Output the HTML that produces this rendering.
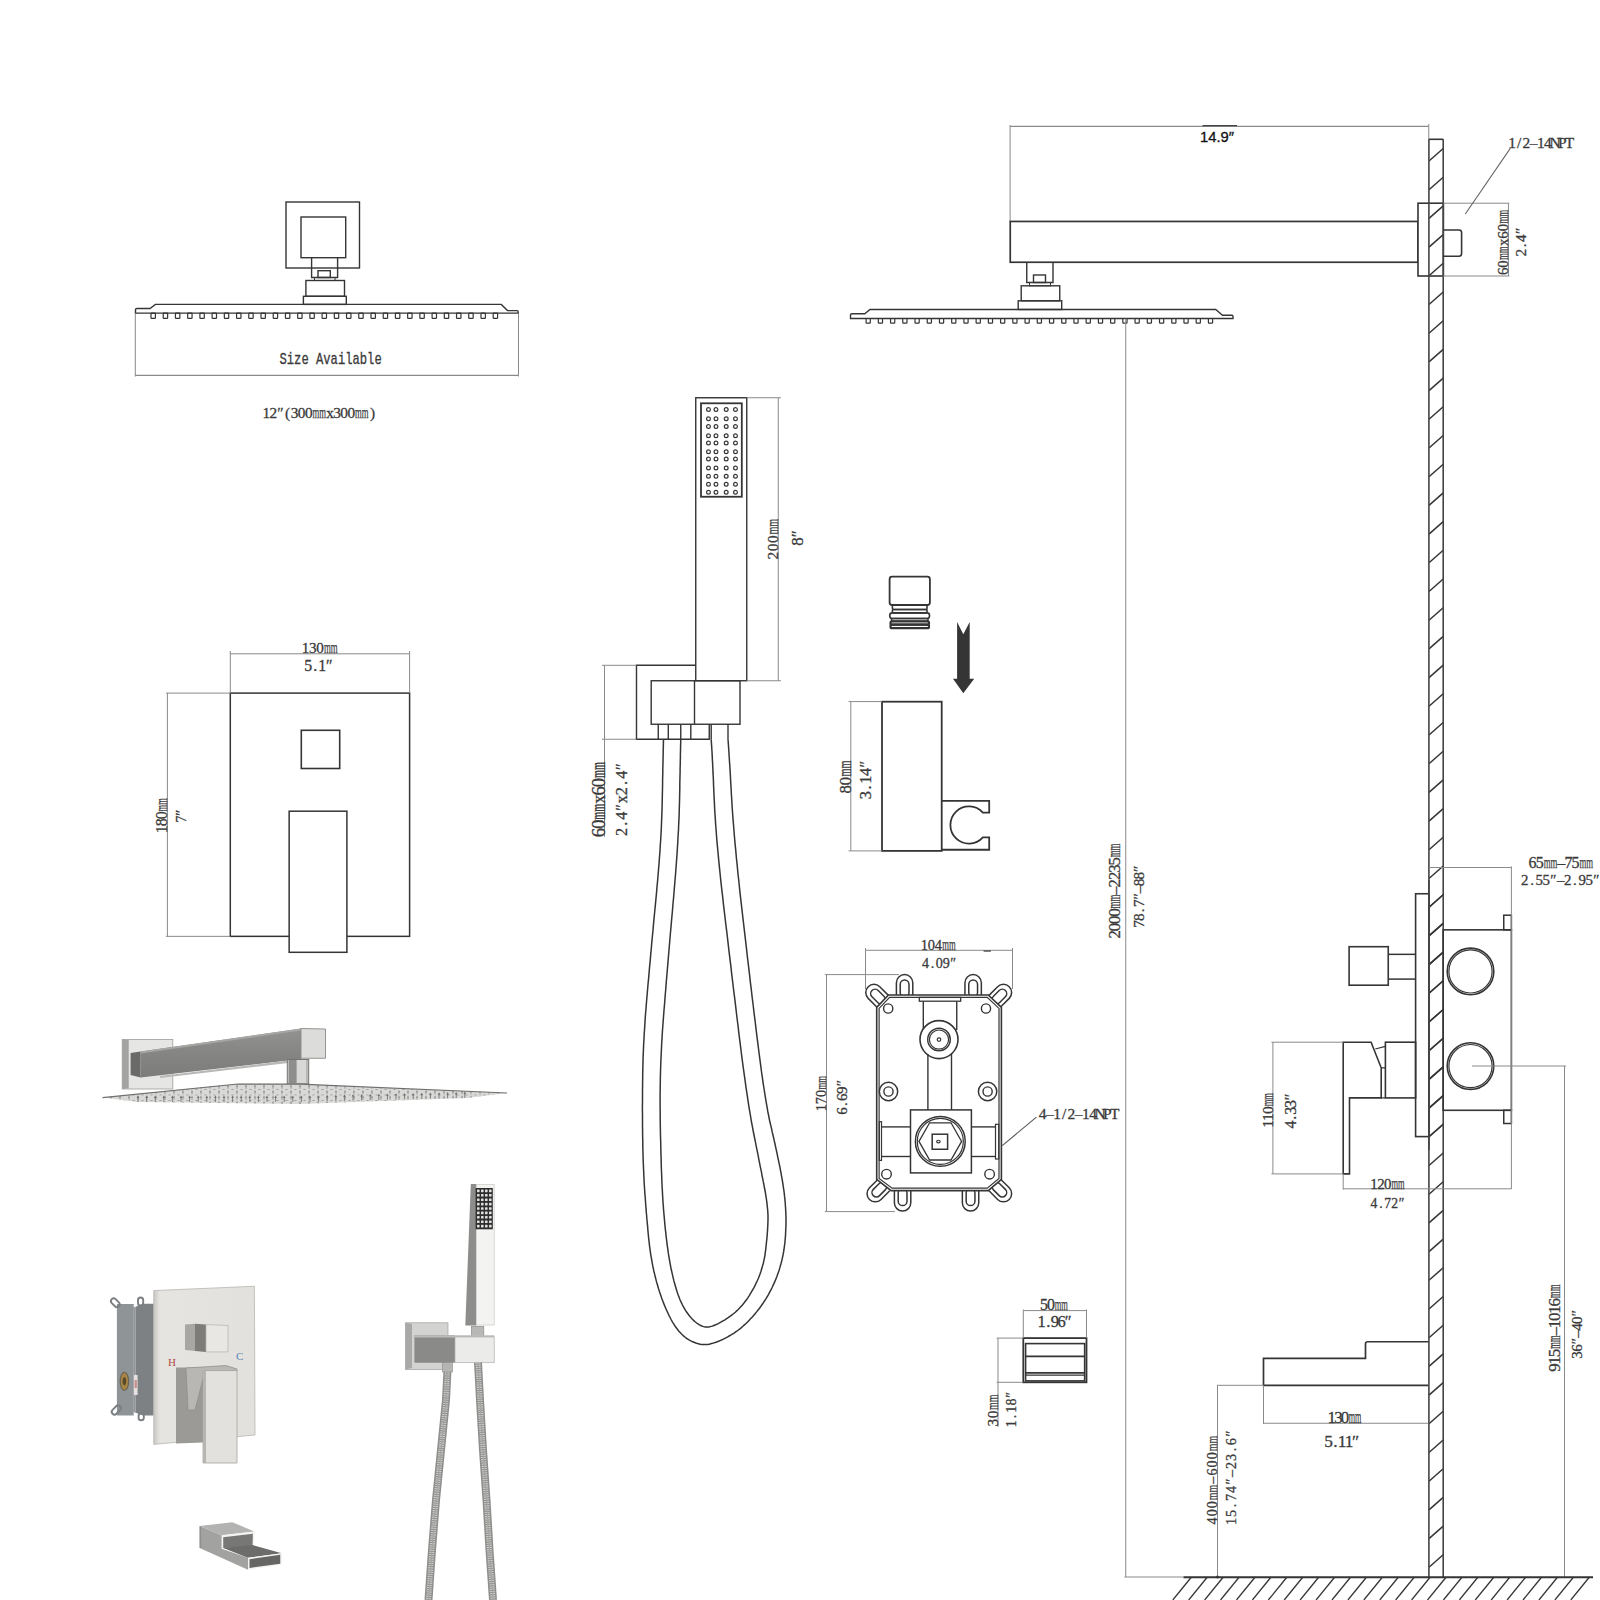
<!DOCTYPE html>
<html><head><meta charset="utf-8"><style>
html,body{margin:0;padding:0;background:#fff;width:1600px;height:1600px;overflow:hidden}
svg{display:block}
</style></head><body>
<svg width="1600" height="1600" viewBox="0 0 1600 1600" stroke-linecap="butt">
<defs><linearGradient id="armg" x1="0" y1="0" x2="0" y2="1"><stop offset="0" stop-color="#9a9a98"/><stop offset="0.45" stop-color="#7b7b79"/><stop offset="1" stop-color="#6e6e6c"/></linearGradient><linearGradient id="flg" x1="0" y1="0" x2="1" y2="0"><stop offset="0" stop-color="#b9b9b7"/><stop offset="0.15" stop-color="#e2e2e0"/><stop offset="1" stop-color="#dcdcda"/></linearGradient><linearGradient id="plg" x1="0" y1="0" x2="1" y2="0"><stop offset="0" stop-color="#c6c6c4"/><stop offset="0.5" stop-color="#a8a8a6"/><stop offset="1" stop-color="#c0c0be"/></linearGradient><linearGradient id="armg2" x1="0" y1="0" x2="0" y2="1"><stop offset="0" stop-color="#939391"/><stop offset="0.5" stop-color="#858583"/><stop offset="1" stop-color="#7c7c7a"/></linearGradient><pattern id="nozp" x="0" y="0" width="9" height="5.5" patternUnits="userSpaceOnUse"><rect width="9" height="5.5" fill="#d9d9d7"/><path d="M1.8,3.4 L3,0.9 L4.2,3.4 Z M6.3,0.6 L7.5,-1.9 L8.7,0.6 Z" fill="#8c8c8a"/><line x1="3" y1="3" x2="3" y2="5.5" stroke="#9a9a98" stroke-width="0.8"/></pattern><linearGradient id="vplg" x1="0" y1="0" x2="1" y2="0"><stop offset="0" stop-color="#c8c6c2"/><stop offset="0.06" stop-color="#e6e4e0"/><stop offset="1" stop-color="#e3e1dd"/></linearGradient></defs>
<rect x="0" y="0" width="1600" height="1600" fill="#fff"/>
<rect x="286.00" y="202.00" width="73.50" height="66.00" stroke="#353535" stroke-width="1.4" fill="none" rx="0" />
<rect x="301.00" y="217.00" width="44.70" height="40.70" stroke="#353535" stroke-width="1.4" fill="none" rx="0" />
<path d="M311.6,257.7 L311.6,277.5 L337.6,277.5 L337.6,257.7" stroke="#353535" stroke-width="1.4" fill="none" />
<rect x="318.00" y="270.70" width="12.30" height="6.80" stroke="#353535" stroke-width="1.4" fill="none" rx="0" />
<rect x="314.50" y="277.50" width="20.50" height="3.00" stroke="#353535" stroke-width="1.0" fill="none" rx="0" />
<rect x="305.90" y="280.50" width="38.60" height="15.80" stroke="#353535" stroke-width="1.4" fill="none" rx="0" />
<rect x="303.40" y="296.30" width="42.90" height="8.10" stroke="#353535" stroke-width="1.4" fill="none" rx="0" />
<path d="M135.5,313.1 L135.5,309.5 Q135.5,308.5 137,308.5 L150,308.5 L155.4,304.4 L501.3,304.4 L507.5,310.6 L517,310.6 Q518.2,310.6 518.2,312 L518.2,313.1 Z" stroke="#353535" stroke-width="1.4" fill="none" />
<rect x="151.00" y="313.10" width="4.40" height="5.20" stroke="#353535" stroke-width="1.2" fill="none" rx="0.6" />
<rect x="163.22" y="313.10" width="4.40" height="5.20" stroke="#353535" stroke-width="1.2" fill="none" rx="0.6" />
<rect x="175.44" y="313.10" width="4.40" height="5.20" stroke="#353535" stroke-width="1.2" fill="none" rx="0.6" />
<rect x="187.66" y="313.10" width="4.40" height="5.20" stroke="#353535" stroke-width="1.2" fill="none" rx="0.6" />
<rect x="199.89" y="313.10" width="4.40" height="5.20" stroke="#353535" stroke-width="1.2" fill="none" rx="0.6" />
<rect x="212.11" y="313.10" width="4.40" height="5.20" stroke="#353535" stroke-width="1.2" fill="none" rx="0.6" />
<rect x="224.33" y="313.10" width="4.40" height="5.20" stroke="#353535" stroke-width="1.2" fill="none" rx="0.6" />
<rect x="236.55" y="313.10" width="4.40" height="5.20" stroke="#353535" stroke-width="1.2" fill="none" rx="0.6" />
<rect x="248.77" y="313.10" width="4.40" height="5.20" stroke="#353535" stroke-width="1.2" fill="none" rx="0.6" />
<rect x="260.99" y="313.10" width="4.40" height="5.20" stroke="#353535" stroke-width="1.2" fill="none" rx="0.6" />
<rect x="273.21" y="313.10" width="4.40" height="5.20" stroke="#353535" stroke-width="1.2" fill="none" rx="0.6" />
<rect x="285.44" y="313.10" width="4.40" height="5.20" stroke="#353535" stroke-width="1.2" fill="none" rx="0.6" />
<rect x="297.66" y="313.10" width="4.40" height="5.20" stroke="#353535" stroke-width="1.2" fill="none" rx="0.6" />
<rect x="309.88" y="313.10" width="4.40" height="5.20" stroke="#353535" stroke-width="1.2" fill="none" rx="0.6" />
<rect x="322.10" y="313.10" width="4.40" height="5.20" stroke="#353535" stroke-width="1.2" fill="none" rx="0.6" />
<rect x="334.32" y="313.10" width="4.40" height="5.20" stroke="#353535" stroke-width="1.2" fill="none" rx="0.6" />
<rect x="346.54" y="313.10" width="4.40" height="5.20" stroke="#353535" stroke-width="1.2" fill="none" rx="0.6" />
<rect x="358.76" y="313.10" width="4.40" height="5.20" stroke="#353535" stroke-width="1.2" fill="none" rx="0.6" />
<rect x="370.99" y="313.10" width="4.40" height="5.20" stroke="#353535" stroke-width="1.2" fill="none" rx="0.6" />
<rect x="383.21" y="313.10" width="4.40" height="5.20" stroke="#353535" stroke-width="1.2" fill="none" rx="0.6" />
<rect x="395.43" y="313.10" width="4.40" height="5.20" stroke="#353535" stroke-width="1.2" fill="none" rx="0.6" />
<rect x="407.65" y="313.10" width="4.40" height="5.20" stroke="#353535" stroke-width="1.2" fill="none" rx="0.6" />
<rect x="419.87" y="313.10" width="4.40" height="5.20" stroke="#353535" stroke-width="1.2" fill="none" rx="0.6" />
<rect x="432.09" y="313.10" width="4.40" height="5.20" stroke="#353535" stroke-width="1.2" fill="none" rx="0.6" />
<rect x="444.31" y="313.10" width="4.40" height="5.20" stroke="#353535" stroke-width="1.2" fill="none" rx="0.6" />
<rect x="456.54" y="313.10" width="4.40" height="5.20" stroke="#353535" stroke-width="1.2" fill="none" rx="0.6" />
<rect x="468.76" y="313.10" width="4.40" height="5.20" stroke="#353535" stroke-width="1.2" fill="none" rx="0.6" />
<rect x="480.98" y="313.10" width="4.40" height="5.20" stroke="#353535" stroke-width="1.2" fill="none" rx="0.6" />
<rect x="493.20" y="313.10" width="4.40" height="5.20" stroke="#353535" stroke-width="1.2" fill="none" rx="0.6" />
<line x1="135.30" y1="313.50" x2="135.30" y2="376.50" stroke="#8a8a8a" stroke-width="1.0"/>
<line x1="518.50" y1="313.50" x2="518.50" y2="376.50" stroke="#8a8a8a" stroke-width="1.0"/>
<line x1="135.30" y1="375.30" x2="518.50" y2="375.30" stroke="#8a8a8a" stroke-width="1.3"/>
<text x="279.50" y="363.90" font-family="Liberation Mono" font-size="15.61" fill="#3a3a3a" stroke="#3a3a3a" stroke-width="0.3" font-weight="normal" textLength="102.20" lengthAdjust="spacingAndGlyphs">Size Available</text>
<text x="266.24 273.32 280.40 287.48 294.57 301.65 308.73" y="418.30" font-family="Liberation Serif" font-size="15.29" fill="#3a3a3a" stroke="#3a3a3a" stroke-width="0.3" text-anchor="middle">12″(300</text><text x="312.62" y="418.30" font-family="Liberation Serif" font-size="16.72" fill="#3a3a3a" stroke="#3a3a3a" stroke-width="0.25" textLength="13.45" lengthAdjust="spacingAndGlyphs">mm</text><text x="329.97 337.05 344.13 351.22" y="418.30" font-family="Liberation Serif" font-size="15.29" fill="#3a3a3a" stroke="#3a3a3a" stroke-width="0.3" text-anchor="middle">x300</text><text x="355.11" y="418.30" font-family="Liberation Serif" font-size="16.72" fill="#3a3a3a" stroke="#3a3a3a" stroke-width="0.25" textLength="13.45" lengthAdjust="spacingAndGlyphs">mm</text><text x="372.46" y="418.30" font-family="Liberation Serif" font-size="15.29" fill="#3a3a3a" stroke="#3a3a3a" stroke-width="0.3" text-anchor="middle">)</text>
<rect x="695.75" y="397.75" width="51.00" height="283.00" stroke="#353535" stroke-width="1.4" fill="none" rx="0" />
<rect x="701.00" y="403.30" width="40.80" height="93.45" stroke="#353535" stroke-width="1.8" fill="none" rx="0" />
<circle cx="708.50" cy="409.45" r="1.90" stroke="#353535" stroke-width="1.2" fill="none"/>
<circle cx="708.50" cy="418.75" r="1.90" stroke="#353535" stroke-width="1.2" fill="none"/>
<circle cx="708.50" cy="426.50" r="1.90" stroke="#353535" stroke-width="1.2" fill="none"/>
<circle cx="708.50" cy="435.70" r="1.90" stroke="#353535" stroke-width="1.2" fill="none"/>
<circle cx="708.50" cy="443.00" r="1.90" stroke="#353535" stroke-width="1.2" fill="none"/>
<circle cx="708.50" cy="451.75" r="1.90" stroke="#353535" stroke-width="1.2" fill="none"/>
<circle cx="708.50" cy="459.00" r="1.90" stroke="#353535" stroke-width="1.2" fill="none"/>
<circle cx="708.50" cy="468.00" r="1.90" stroke="#353535" stroke-width="1.2" fill="none"/>
<circle cx="708.50" cy="476.20" r="1.90" stroke="#353535" stroke-width="1.2" fill="none"/>
<circle cx="708.50" cy="484.30" r="1.90" stroke="#353535" stroke-width="1.2" fill="none"/>
<circle cx="708.50" cy="492.25" r="1.90" stroke="#353535" stroke-width="1.2" fill="none"/>
<circle cx="716.00" cy="409.45" r="1.90" stroke="#353535" stroke-width="1.2" fill="none"/>
<circle cx="716.00" cy="418.75" r="1.90" stroke="#353535" stroke-width="1.2" fill="none"/>
<circle cx="716.00" cy="426.50" r="1.90" stroke="#353535" stroke-width="1.2" fill="none"/>
<circle cx="716.00" cy="435.70" r="1.90" stroke="#353535" stroke-width="1.2" fill="none"/>
<circle cx="716.00" cy="443.00" r="1.90" stroke="#353535" stroke-width="1.2" fill="none"/>
<circle cx="716.00" cy="451.75" r="1.90" stroke="#353535" stroke-width="1.2" fill="none"/>
<circle cx="716.00" cy="459.00" r="1.90" stroke="#353535" stroke-width="1.2" fill="none"/>
<circle cx="716.00" cy="468.00" r="1.90" stroke="#353535" stroke-width="1.2" fill="none"/>
<circle cx="716.00" cy="476.20" r="1.90" stroke="#353535" stroke-width="1.2" fill="none"/>
<circle cx="716.00" cy="484.30" r="1.90" stroke="#353535" stroke-width="1.2" fill="none"/>
<circle cx="716.00" cy="492.25" r="1.90" stroke="#353535" stroke-width="1.2" fill="none"/>
<circle cx="726.20" cy="409.45" r="1.90" stroke="#353535" stroke-width="1.2" fill="none"/>
<circle cx="726.20" cy="418.75" r="1.90" stroke="#353535" stroke-width="1.2" fill="none"/>
<circle cx="726.20" cy="426.50" r="1.90" stroke="#353535" stroke-width="1.2" fill="none"/>
<circle cx="726.20" cy="435.70" r="1.90" stroke="#353535" stroke-width="1.2" fill="none"/>
<circle cx="726.20" cy="443.00" r="1.90" stroke="#353535" stroke-width="1.2" fill="none"/>
<circle cx="726.20" cy="451.75" r="1.90" stroke="#353535" stroke-width="1.2" fill="none"/>
<circle cx="726.20" cy="459.00" r="1.90" stroke="#353535" stroke-width="1.2" fill="none"/>
<circle cx="726.20" cy="468.00" r="1.90" stroke="#353535" stroke-width="1.2" fill="none"/>
<circle cx="726.20" cy="476.20" r="1.90" stroke="#353535" stroke-width="1.2" fill="none"/>
<circle cx="726.20" cy="484.30" r="1.90" stroke="#353535" stroke-width="1.2" fill="none"/>
<circle cx="726.20" cy="492.25" r="1.90" stroke="#353535" stroke-width="1.2" fill="none"/>
<circle cx="735.50" cy="409.45" r="1.90" stroke="#353535" stroke-width="1.2" fill="none"/>
<circle cx="735.50" cy="418.75" r="1.90" stroke="#353535" stroke-width="1.2" fill="none"/>
<circle cx="735.50" cy="426.50" r="1.90" stroke="#353535" stroke-width="1.2" fill="none"/>
<circle cx="735.50" cy="435.70" r="1.90" stroke="#353535" stroke-width="1.2" fill="none"/>
<circle cx="735.50" cy="443.00" r="1.90" stroke="#353535" stroke-width="1.2" fill="none"/>
<circle cx="735.50" cy="451.75" r="1.90" stroke="#353535" stroke-width="1.2" fill="none"/>
<circle cx="735.50" cy="459.00" r="1.90" stroke="#353535" stroke-width="1.2" fill="none"/>
<circle cx="735.50" cy="468.00" r="1.90" stroke="#353535" stroke-width="1.2" fill="none"/>
<circle cx="735.50" cy="476.20" r="1.90" stroke="#353535" stroke-width="1.2" fill="none"/>
<circle cx="735.50" cy="484.30" r="1.90" stroke="#353535" stroke-width="1.2" fill="none"/>
<circle cx="735.50" cy="492.25" r="1.90" stroke="#353535" stroke-width="1.2" fill="none"/>
<line x1="746.75" y1="397.75" x2="781.00" y2="397.75" stroke="#8a8a8a" stroke-width="1.0"/>
<line x1="746.75" y1="680.75" x2="781.00" y2="680.75" stroke="#8a8a8a" stroke-width="1.0"/>
<line x1="778.25" y1="397.75" x2="778.25" y2="680.75" stroke="#8a8a8a" stroke-width="1.0"/>
<g transform="translate(778.00,559.75) rotate(-90)"><text x="4.12 12.38 20.62" y="0.00" font-family="Liberation Serif" font-size="15.44" fill="#3a3a3a" stroke="#3a3a3a" stroke-width="0.3" text-anchor="middle">200</text><text x="25.16" y="0.00" font-family="Liberation Serif" font-size="16.89" fill="#3a3a3a" stroke="#3a3a3a" stroke-width="0.25" textLength="15.67" lengthAdjust="spacingAndGlyphs">mm</text></g>
<g transform="translate(803.00,545.50) rotate(-90)"><text x="3.94 11.81" y="0.00" font-family="Liberation Serif" font-size="16.91" fill="#3a3a3a" stroke="#3a3a3a" stroke-width="0.3" text-anchor="middle">8″</text></g>
<path d="M695.75,665.3 L636.5,665.3 L636.5,739.25 L709.25,739.25 L709.25,724.25" stroke="#353535" stroke-width="1.4" fill="none" />
<rect x="651.20" y="680.75" width="88.80" height="43.50" stroke="#353535" stroke-width="1.4" fill="none" rx="0" />
<line x1="694.50" y1="680.75" x2="694.50" y2="724.25" stroke="#353535" stroke-width="1.4"/>
<line x1="658.25" y1="724.25" x2="658.25" y2="739.25" stroke="#353535" stroke-width="1.4"/>
<line x1="668.30" y1="724.25" x2="668.30" y2="739.25" stroke="#353535" stroke-width="1.4"/>
<line x1="680.75" y1="724.25" x2="680.75" y2="739.25" stroke="#353535" stroke-width="1.4"/>
<line x1="690.80" y1="724.25" x2="690.80" y2="739.25" stroke="#353535" stroke-width="1.4"/>
<line x1="711.20" y1="724.25" x2="711.20" y2="739.25" stroke="#353535" stroke-width="1.4"/>
<line x1="728.00" y1="724.25" x2="728.00" y2="739.25" stroke="#353535" stroke-width="1.4"/>
<line x1="602.00" y1="665.30" x2="636.50" y2="665.30" stroke="#8a8a8a" stroke-width="1.0"/>
<line x1="602.00" y1="739.25" x2="636.50" y2="739.25" stroke="#8a8a8a" stroke-width="1.0"/>
<line x1="604.50" y1="665.30" x2="604.50" y2="836.75" stroke="#8a8a8a" stroke-width="1.0"/>
<g transform="translate(605.00,836.75) rotate(-90)"><text x="4.17 12.50" y="0.00" font-family="Liberation Serif" font-size="18.38" fill="#3a3a3a" stroke="#3a3a3a" stroke-width="0.3" text-anchor="middle">60</text><text x="17.08" y="0.00" font-family="Liberation Serif" font-size="20.11" fill="#3a3a3a" stroke="#3a3a3a" stroke-width="0.25" textLength="15.83" lengthAdjust="spacingAndGlyphs">mm</text><text x="37.50 45.83 54.17" y="0.00" font-family="Liberation Serif" font-size="18.38" fill="#3a3a3a" stroke="#3a3a3a" stroke-width="0.3" text-anchor="middle">x60</text><text x="58.75" y="0.00" font-family="Liberation Serif" font-size="20.11" fill="#3a3a3a" stroke="#3a3a3a" stroke-width="0.25" textLength="15.83" lengthAdjust="spacingAndGlyphs">mm</text></g>
<g transform="translate(626.75,836.00) rotate(-90)"><text x="4.08 12.25 20.42 28.58 36.75 44.92 53.08 61.25 69.42" y="0.00" font-family="Liberation Serif" font-size="16.24" fill="#3a3a3a" stroke="#3a3a3a" stroke-width="0.3" text-anchor="middle">2.4″x2.4″</text></g>
<path d="M663.5,739.2 L663.5,739.3 L663.5,739.5 L663.5,739.7 L663.5,740.1 L663.5,740.5 L663.5,741.0 L663.4,741.5 L663.4,742.2 L663.4,742.9 L663.4,743.7 L663.4,744.6 L663.3,745.6 L663.3,746.6 L663.3,747.8 L663.3,749.0 L663.2,750.3 L663.2,751.8 L663.2,753.6 L663.1,755.6 L663.1,757.8 L663.0,760.2 L663.0,762.9 L662.9,765.8 L662.8,769.0 L662.8,772.4 L662.7,776.0 L662.6,779.8 L662.6,783.9 L662.5,788.2 L662.4,792.7 L662.3,797.5 L662.2,802.5 L662.1,807.6 L661.9,812.7 L661.7,818.0 L661.5,823.3 L661.3,828.7 L661.0,834.1 L660.7,839.7 L660.3,845.3 L660.0,851.0 L659.5,856.8 L659.1,862.7 L658.6,868.6 L658.1,874.6 L657.6,880.7 L657.0,886.9 L656.5,893.1 L655.9,899.4 L655.3,905.6 L654.7,911.8 L654.1,917.9 L653.5,924.1 L653.0,930.2 L652.4,936.3 L651.8,942.4 L651.3,948.5 L650.7,954.6 L650.2,960.6 L649.6,966.6 L649.1,972.6 L648.6,978.6 L648.0,984.5 L647.5,990.5 L647.0,996.3 L646.5,1002.0 L646.1,1007.6 L645.6,1013.0 L645.2,1018.4 L644.9,1023.6 L644.6,1028.8 L644.2,1033.8 L644.0,1038.6 L643.7,1043.4 L643.5,1048.0 L643.3,1052.6 L643.1,1057.0 L643.0,1061.3 L642.9,1065.5 L642.8,1069.5 L642.7,1073.6 L642.7,1077.7 L642.6,1081.7 L642.6,1085.8 L642.5,1089.8 L642.5,1093.9 L642.5,1098.0 L642.5,1102.0 L642.4,1106.1 L642.4,1110.2 L642.5,1114.2 L642.5,1118.3 L642.5,1122.3 L642.5,1126.4 L642.6,1130.5 L642.6,1134.5 L642.7,1138.5 L642.8,1142.5 L642.8,1146.3 L642.9,1150.1 L643.0,1153.9 L643.1,1157.6 L643.2,1161.2 L643.4,1164.7 L643.5,1168.2 L643.7,1171.7 L643.8,1175.0 L644.0,1178.3 L644.1,1181.5 L644.3,1184.7 L644.5,1187.8 L644.7,1190.9 L644.9,1193.9 L645.2,1197.0 L645.4,1200.0 L645.6,1203.0 L645.8,1206.1 L646.1,1209.1 L646.3,1212.2 L646.6,1215.2 L646.8,1218.3 L647.1,1221.3 L647.4,1224.4 L647.7,1227.4 L647.9,1230.4 L648.2,1233.5 L648.5,1236.5 L648.8,1239.6 L649.2,1242.6 L649.5,1245.6 L649.9,1248.5 L650.3,1251.4 L650.7,1254.3 L651.2,1257.2 L651.7,1260.0 L652.2,1262.8 L652.7,1265.5 L653.3,1268.3 L653.8,1271.0 L654.5,1273.6 L655.1,1276.3 L655.8,1278.9 L656.4,1281.4 L657.2,1284.0 L657.9,1286.5 L658.6,1288.9 L659.4,1291.4 L660.2,1293.7 L661.0,1296.1 L661.8,1298.4 L662.7,1300.7 L663.5,1302.9 L664.4,1305.1 L665.3,1307.3 L666.2,1309.4 L667.2,1311.5 L668.1,1313.5 L669.1,1315.6 L670.1,1317.5 L671.1,1319.5 L672.1,1321.3 L673.2,1323.1 L674.3,1324.8 L675.3,1326.5 L676.5,1328.0 L677.6,1329.5 L678.7,1331.0 L679.9,1332.3 L681.1,1333.6 L682.3,1334.8 L683.5,1335.9 L684.8,1337.0 L686.0,1337.9 L687.3,1338.8 L688.6,1339.7 L689.9,1340.4 L691.3,1341.1 L692.6,1341.8 L693.9,1342.3 L695.2,1342.8 L696.4,1343.3 L697.7,1343.6 L699.0,1343.9 L700.3,1344.2 L701.5,1344.4 L702.8,1344.5 L704.0,1344.6 L705.3,1344.6 L706.5,1344.5 L707.7,1344.4 L709.0,1344.2 L710.2,1343.9 L711.4,1343.6 L712.7,1343.3 L713.9,1342.9 L715.2,1342.5 L716.6,1342.0 L717.9,1341.5 L719.2,1341.0 L720.6,1340.4 L722.0,1339.8 L723.4,1339.1 L724.8,1338.4 L726.3,1337.6 L727.7,1336.9 L729.2,1336.0 L730.7,1335.2 L732.3,1334.2 L733.8,1333.3 L735.3,1332.2 L736.8,1331.2 L738.4,1330.0 L739.9,1328.8 L741.4,1327.6 L742.9,1326.3 L744.4,1324.9 L746.0,1323.5 L747.5,1322.0 L749.0,1320.4 L750.5,1318.8 L752.1,1317.2 L753.6,1315.5 L755.1,1313.7 L756.6,1311.9 L758.1,1310.0 L759.5,1308.2 L760.9,1306.3 L762.3,1304.3 L763.6,1302.4 L764.9,1300.4 L766.2,1298.4 L767.4,1296.4 L768.6,1294.3 L769.7,1292.2 L770.8,1290.1 L771.9,1288.0 L772.9,1285.8 L773.9,1283.6 L774.9,1281.4 L775.8,1279.2 L776.7,1276.9 L777.5,1274.7 L778.3,1272.4 L779.1,1270.2 L779.8,1267.9 L780.4,1265.6 L781.1,1263.3 L781.7,1261.1 L782.2,1258.8 L782.7,1256.5 L783.2,1254.2 L783.6,1251.8 L784.0,1249.5 L784.3,1247.2 L784.6,1244.9 L784.9,1242.5 L785.1,1240.2 L785.3,1237.9 L785.5,1235.6 L785.6,1233.2 L785.7,1230.9 L785.8,1228.6 L785.9,1226.4 L786.0,1224.1 L786.0,1221.8 L786.0,1219.5 L786.0,1217.3 L785.9,1215.0 L785.8,1212.7 L785.7,1210.5 L785.6,1208.3 L785.4,1206.0 L785.3,1203.8 L785.1,1201.5 L784.9,1199.2 L784.6,1196.9 L784.4,1194.6 L784.1,1192.2 L783.8,1189.9 L783.4,1187.5 L783.1,1185.1 L782.7,1182.7 L782.3,1180.2 L781.9,1177.8 L781.4,1175.3 L781.0,1172.8 L780.5,1170.3 L780.0,1167.7 L779.5,1165.2 L778.9,1162.6 L778.4,1159.9 L777.8,1157.3 L777.3,1154.6 L776.7,1151.8 L776.1,1149.1 L775.5,1146.3 L774.9,1143.5 L774.2,1140.6 L773.6,1137.7 L772.9,1134.8 L772.2,1131.9 L771.6,1128.9 L770.9,1125.9 L770.1,1122.8 L769.4,1119.5 L768.7,1115.9 L767.9,1112.0 L767.2,1107.9 L766.4,1103.4 L765.6,1098.7 L764.8,1093.7 L764.0,1088.5 L763.1,1082.9 L762.3,1077.1 L761.4,1071.0 L760.6,1064.6 L759.7,1057.9 L758.8,1051.0 L757.9,1043.8 L756.9,1036.2 L756.0,1028.7 L755.1,1021.0 L754.1,1013.3 L753.2,1005.5 L752.2,997.6 L751.3,989.6 L750.3,981.6 L749.4,973.4 L748.4,965.2 L747.4,957.0 L746.5,948.6 L745.5,940.2 L744.5,931.6 L743.5,923.0 L742.5,914.4 L741.5,905.6 L740.5,897.1 L739.6,888.8 L738.8,880.8 L737.9,873.0 L737.2,865.4 L736.4,858.0 L735.8,850.9 L735.1,844.1 L734.5,837.4 L734.0,831.0 L733.5,824.8 L733.0,818.9 L732.6,813.2 L732.2,807.7 L731.9,802.5 L731.6,797.5 L731.3,792.7 L731.1,788.2 L730.8,783.9 L730.6,779.8 L730.4,776.0 L730.2,772.4 L730.0,769.0 L729.8,765.8 L729.6,762.9 L729.4,760.2 L729.3,757.8 L729.1,755.6 L729.0,753.6 L728.9,751.8 L728.8,750.3 L728.7,749.0 L728.6,747.8 L728.5,746.6 L728.5,745.6 L728.4,744.6 L728.3,743.7 L728.3,742.9 L728.2,742.2 L728.2,741.5 L728.1,741.0 L728.1,740.5 L728.1,740.1 L728.0,739.7 L728.0,739.5 L728.0,739.3 L728.0,739.2" stroke="#353535" stroke-width="1.5" fill="none" />
<path d="M680.8,739.2 L680.7,739.3 L680.7,739.5 L680.7,739.7 L680.7,740.1 L680.7,740.5 L680.7,741.0 L680.7,741.5 L680.7,742.2 L680.7,742.9 L680.7,743.7 L680.6,744.6 L680.6,745.6 L680.6,746.6 L680.6,747.8 L680.5,749.0 L680.5,750.3 L680.5,751.8 L680.4,753.6 L680.4,755.6 L680.4,757.8 L680.3,760.2 L680.3,762.9 L680.2,765.8 L680.1,769.0 L680.1,772.4 L680.0,776.0 L679.9,779.8 L679.8,783.9 L679.8,788.2 L679.7,792.7 L679.6,797.5 L679.5,802.5 L679.3,807.7 L679.2,813.0 L679.0,818.4 L678.7,824.1 L678.5,829.8 L678.1,835.8 L677.8,841.9 L677.4,848.1 L677.0,854.5 L676.5,861.1 L676.0,867.8 L675.5,874.7 L674.9,881.7 L674.3,888.9 L673.7,896.2 L673.0,903.8 L672.4,911.2 L671.7,918.6 L671.1,925.9 L670.4,933.2 L669.8,940.5 L669.2,947.7 L668.6,954.8 L668.0,961.9 L667.4,969.0 L666.8,976.0 L666.2,982.9 L665.7,989.8 L665.1,996.6 L664.6,1003.4 L664.0,1010.2 L663.5,1016.8 L663.0,1023.5 L662.5,1030.1 L662.1,1036.7 L661.7,1043.2 L661.4,1049.8 L661.1,1056.2 L660.8,1062.7 L660.6,1069.1 L660.4,1075.4 L660.3,1081.8 L660.2,1088.1 L660.1,1094.4 L660.1,1100.6 L660.1,1106.8 L660.2,1112.9 L660.2,1119.1 L660.3,1125.0 L660.4,1130.8 L660.5,1136.5 L660.7,1142.0 L660.8,1147.3 L660.9,1152.4 L661.1,1157.4 L661.2,1162.3 L661.3,1166.9 L661.5,1171.5 L661.7,1175.8 L661.8,1180.0 L662.0,1184.0 L662.2,1187.9 L662.4,1191.6 L662.6,1195.2 L662.8,1198.7 L663.0,1202.2 L663.3,1205.6 L663.5,1209.1 L663.8,1212.5 L664.1,1215.8 L664.4,1219.2 L664.7,1222.4 L665.0,1225.7 L665.3,1229.0 L665.7,1232.2 L666.0,1235.3 L666.4,1238.5 L666.8,1241.6 L667.1,1244.7 L667.6,1247.7 L668.0,1250.7 L668.4,1253.7 L668.9,1256.6 L669.4,1259.5 L669.9,1262.3 L670.4,1265.1 L670.9,1267.8 L671.5,1270.5 L672.1,1273.2 L672.7,1275.8 L673.3,1278.3 L673.9,1280.9 L674.6,1283.3 L675.3,1285.7 L675.9,1288.1 L676.7,1290.5 L677.4,1292.7 L678.2,1295.0 L679.0,1297.1 L679.8,1299.2 L680.7,1301.2 L681.6,1303.1 L682.5,1305.0 L683.5,1306.9 L684.5,1308.6 L685.5,1310.3 L686.6,1312.0 L687.7,1313.5 L688.8,1315.0 L690.0,1316.5 L691.1,1317.8 L692.4,1319.2 L693.6,1320.4 L694.8,1321.5 L696.0,1322.5 L697.2,1323.4 L698.4,1324.2 L699.5,1324.9 L700.7,1325.5 L701.9,1326.0 L703.0,1326.4 L704.2,1326.7 L705.3,1326.9 L706.5,1327.0 L707.6,1327.0 L708.7,1326.9 L709.8,1326.8 L711.0,1326.4 L712.1,1326.1 L713.3,1325.7 L714.4,1325.2 L715.7,1324.7 L716.9,1324.2 L718.2,1323.6 L719.5,1322.9 L720.8,1322.2 L722.1,1321.4 L723.5,1320.6 L724.9,1319.8 L726.3,1318.9 L727.8,1317.9 L729.2,1316.9 L730.7,1315.8 L732.3,1314.7 L733.8,1313.5 L735.3,1312.2 L736.7,1310.9 L738.2,1309.5 L739.6,1308.1 L741.0,1306.5 L742.4,1304.9 L743.8,1303.2 L745.1,1301.5 L746.5,1299.7 L747.8,1297.8 L749.1,1295.8 L750.3,1293.8 L751.6,1291.7 L752.8,1289.6 L754.1,1287.3 L755.2,1285.1 L756.3,1282.8 L757.4,1280.5 L758.4,1278.2 L759.3,1275.9 L760.2,1273.5 L761.0,1271.2 L761.7,1268.8 L762.4,1266.4 L763.1,1264.0 L763.7,1261.5 L764.2,1259.1 L764.7,1256.6 L765.1,1254.1 L765.4,1251.6 L765.8,1249.0 L766.0,1246.6 L766.3,1244.1 L766.5,1241.8 L766.8,1239.5 L767.0,1237.3 L767.2,1235.1 L767.3,1233.0 L767.5,1231.0 L767.6,1229.0 L767.7,1227.1 L767.8,1225.3 L767.9,1223.5 L767.9,1221.8 L768.0,1220.2 L768.0,1218.6 L768.0,1217.0 L768.0,1215.4 L767.9,1213.8 L767.8,1212.1 L767.7,1210.3 L767.5,1208.5 L767.3,1206.6 L767.1,1204.6 L766.9,1202.6 L766.6,1200.5 L766.3,1198.3 L765.9,1196.1 L765.6,1193.8 L765.2,1191.5 L764.7,1189.0 L764.2,1186.6 L763.8,1184.0 L763.2,1181.4 L762.7,1178.7 L762.1,1175.8 L761.6,1172.9 L761.0,1169.9 L760.3,1166.8 L759.7,1163.6 L759.0,1160.3 L758.4,1156.9 L757.7,1153.4 L757.0,1149.8 L756.2,1146.1 L755.5,1142.4 L754.7,1138.5 L753.9,1134.5 L753.1,1130.5 L752.3,1126.1 L751.4,1121.5 L750.6,1116.5 L749.7,1111.3 L748.8,1105.8 L747.9,1099.9 L747.0,1093.8 L746.0,1087.4 L745.1,1080.7 L744.1,1073.7 L743.1,1066.4 L742.1,1058.9 L741.1,1051.0 L740.1,1042.8 L739.0,1034.4 L738.0,1025.6 L736.9,1017.0 L735.9,1008.4 L734.9,999.8 L733.8,991.4 L732.8,983.0 L731.8,974.8 L730.9,966.6 L729.9,958.4 L728.9,950.4 L728.0,942.4 L727.1,934.5 L726.1,926.7 L725.2,919.0 L724.3,911.3 L723.4,903.8 L722.6,896.2 L721.7,888.9 L720.9,881.7 L720.2,874.7 L719.5,867.8 L718.8,861.1 L718.2,854.5 L717.6,848.1 L717.0,841.9 L716.5,835.8 L716.1,829.8 L715.6,824.1 L715.3,818.4 L714.9,813.0 L714.6,807.7 L714.4,802.5 L714.1,797.5 L713.9,792.7 L713.7,788.2 L713.5,783.9 L713.4,779.8 L713.2,776.0 L713.0,772.4 L712.9,769.0 L712.7,765.8 L712.6,762.9 L712.4,760.2 L712.3,757.8 L712.2,755.6 L712.1,753.6 L712.0,751.8 L711.9,750.3 L711.8,749.0 L711.7,747.8 L711.7,746.6 L711.6,745.6 L711.5,744.6 L711.5,743.7 L711.4,742.9 L711.4,742.2 L711.3,741.5 L711.3,741.0 L711.3,740.5 L711.3,740.1 L711.2,739.7 L711.2,739.5 L711.2,739.3 L711.2,739.2" stroke="#353535" stroke-width="1.5" fill="none" />
<rect x="889.60" y="576.65" width="40.30" height="28.35" stroke="#353535" stroke-width="1.8" fill="none" rx="2.5" />
<rect x="892.40" y="605.00" width="34.60" height="4.50" stroke="#353535" stroke-width="1.6" fill="none" rx="1" />
<rect x="892.40" y="609.50" width="34.60" height="3.40" stroke="#353535" stroke-width="1.6" fill="none" rx="1" />
<rect x="889.80" y="612.90" width="39.70" height="5.60" stroke="#353535" stroke-width="1.6" fill="none" rx="2.5" />
<rect x="891.50" y="618.50" width="36.50" height="2.80" stroke="#353535" stroke-width="1.6" fill="none" rx="1" />
<rect x="890.50" y="621.30" width="38.50" height="3.40" stroke="#353535" stroke-width="2.2" fill="none" rx="1.5" />
<rect x="890.50" y="624.70" width="38.50" height="3.50" stroke="#353535" stroke-width="2.2" fill="none" rx="1.5" />
<polygon points="957.10,621.90 963.30,634.25 969.70,621.90 969.70,678.70 974.20,678.70 963.30,693.30 953.00,678.70 957.10,678.70" fill="#353535" stroke="none" stroke-width="0" />
<rect x="882.00" y="701.70" width="59.70" height="149.20" stroke="#353535" stroke-width="1.8" fill="none" rx="0" />
<path d="M941.7,800.8 L989.2,800.8 L989.2,812.6 L982.86,812.6 A18.6,18.6 0 1 0 982.86,837.4 L989.2,837.4 L989.2,849.75 L941.7,849.75" stroke="#353535" stroke-width="1.8" fill="none" />
<line x1="850.80" y1="701.60" x2="850.80" y2="850.90" stroke="#8a8a8a" stroke-width="1.0"/>
<line x1="848.60" y1="701.60" x2="882.00" y2="701.60" stroke="#8a8a8a" stroke-width="1.0"/>
<line x1="848.60" y1="850.90" x2="882.00" y2="850.90" stroke="#8a8a8a" stroke-width="1.0"/>
<g transform="translate(850.80,793.50) rotate(-90)"><text x="4.15 12.45" y="0.00" font-family="Liberation Serif" font-size="16.62" fill="#3a3a3a" stroke="#3a3a3a" stroke-width="0.3" text-anchor="middle">80</text><text x="17.02" y="0.00" font-family="Liberation Serif" font-size="18.18" fill="#3a3a3a" stroke="#3a3a3a" stroke-width="0.25" textLength="15.77" lengthAdjust="spacingAndGlyphs">mm</text></g>
<g transform="translate(871.00,799.10) rotate(-90)"><text x="3.88 11.64 19.40 27.16 34.92" y="0.00" font-family="Liberation Serif" font-size="16.24" fill="#3a3a3a" stroke="#3a3a3a" stroke-width="0.3" text-anchor="middle">3.14″</text></g>
<rect x="230.30" y="693.10" width="179.30" height="243.25" stroke="#353535" stroke-width="1.5" fill="none" rx="0" />
<rect x="301.30" y="730.30" width="38.40" height="38.20" stroke="#353535" stroke-width="1.6" fill="none" rx="0" />
<rect x="289.15" y="811.20" width="57.75" height="141.10" stroke="#353535" stroke-width="1.5" fill="#fff" rx="0" />
<line x1="230.30" y1="653.80" x2="409.60" y2="653.80" stroke="#8a8a8a" stroke-width="1.0"/>
<line x1="230.30" y1="651.00" x2="230.30" y2="693.00" stroke="#8a8a8a" stroke-width="1.0"/>
<line x1="409.60" y1="651.00" x2="409.60" y2="693.00" stroke="#8a8a8a" stroke-width="1.0"/>
<text x="305.51 312.73 319.95" y="653.00" font-family="Liberation Serif" font-size="15.15" fill="#3a3a3a" stroke="#3a3a3a" stroke-width="0.3" text-anchor="middle">130</text><text x="323.92" y="653.00" font-family="Liberation Serif" font-size="16.57" fill="#3a3a3a" stroke="#3a3a3a" stroke-width="0.25" textLength="13.72" lengthAdjust="spacingAndGlyphs">mm</text>
<text x="308.20 315.20 322.20 329.20" y="671.40" font-family="Liberation Serif" font-size="15.83" fill="#3a3a3a" stroke="#3a3a3a" stroke-width="0.3" text-anchor="middle">5.1″</text>
<line x1="167.40" y1="693.10" x2="167.40" y2="936.35" stroke="#8a8a8a" stroke-width="1.0"/>
<line x1="166.00" y1="693.10" x2="230.30" y2="693.10" stroke="#8a8a8a" stroke-width="1.0"/>
<line x1="166.00" y1="936.35" x2="230.30" y2="936.35" stroke="#8a8a8a" stroke-width="1.0"/>
<g transform="translate(167.40,832.90) rotate(-90)"><text x="3.51 10.53 17.55" y="0.00" font-family="Liberation Serif" font-size="15.88" fill="#3a3a3a" stroke="#3a3a3a" stroke-width="0.3" text-anchor="middle">180</text><text x="21.41" y="0.00" font-family="Liberation Serif" font-size="17.37" fill="#3a3a3a" stroke="#3a3a3a" stroke-width="0.25" textLength="13.34" lengthAdjust="spacingAndGlyphs">mm</text></g>
<g transform="translate(185.70,822.30) rotate(-90)"><text x="3.20 9.60" y="0.00" font-family="Liberation Serif" font-size="14.48" fill="#3a3a3a" stroke="#3a3a3a" stroke-width="0.3" text-anchor="middle">7″</text></g>
<line x1="865.50" y1="950.30" x2="1012.50" y2="950.30" stroke="#8a8a8a" stroke-width="1.0"/>
<line x1="865.50" y1="948.00" x2="865.50" y2="989.00" stroke="#8a8a8a" stroke-width="1.0"/>
<line x1="1012.50" y1="948.00" x2="1012.50" y2="989.00" stroke="#8a8a8a" stroke-width="1.0"/>
<line x1="983.60" y1="951.00" x2="990.90" y2="951.00" stroke="#555" stroke-width="1.5"/>
<text x="924.24 931.32 938.40" y="950.30" font-family="Liberation Serif" font-size="14.41" fill="#3a3a3a" stroke="#3a3a3a" stroke-width="0.3" text-anchor="middle">104</text><text x="942.29" y="950.30" font-family="Liberation Serif" font-size="15.77" fill="#3a3a3a" stroke="#3a3a3a" stroke-width="0.25" textLength="13.45" lengthAdjust="spacingAndGlyphs">mm</text>
<text x="925.48 932.43 939.38 946.33 953.28" y="968.00" font-family="Liberation Serif" font-size="14.07" fill="#3a3a3a" stroke="#3a3a3a" stroke-width="0.3" text-anchor="middle">4.09″</text>
<line x1="824.80" y1="974.60" x2="899.00" y2="974.60" stroke="#8a8a8a" stroke-width="1.0"/>
<line x1="824.80" y1="1211.60" x2="895.00" y2="1211.60" stroke="#8a8a8a" stroke-width="1.0"/>
<line x1="826.50" y1="974.60" x2="826.50" y2="1211.60" stroke="#8a8a8a" stroke-width="1.0"/>
<g transform="translate(825.50,1111.20) rotate(-90)"><text x="3.55 10.64 17.73" y="0.00" font-family="Liberation Serif" font-size="14.26" fill="#3a3a3a" stroke="#3a3a3a" stroke-width="0.3" text-anchor="middle">170</text><text x="21.62" y="0.00" font-family="Liberation Serif" font-size="15.60" fill="#3a3a3a" stroke="#3a3a3a" stroke-width="0.25" textLength="13.47" lengthAdjust="spacingAndGlyphs">mm</text></g>
<g transform="translate(847.20,1114.50) rotate(-90)"><text x="3.48 10.44 17.40 24.36 31.32" y="0.00" font-family="Liberation Serif" font-size="15.15" fill="#3a3a3a" stroke="#3a3a3a" stroke-width="0.3" text-anchor="middle">6.69″</text></g>
<g transform="translate(904.60,995.00) rotate(0)"><path d="M-8.2,0 L-8.2,-12.2 A8.2,8.2 0 0 1 8.2,-12.2 L8.2,0 M-4.4,-2.5 L-4.4,-10.6 A4.4,4.4 0 0 1 4.4,-10.6 L4.4,-2.5 A4.4,4.4 0 0 1 -4.4,-2.5" stroke="#353535" stroke-width="1.5" fill="#fff"/></g>
<g transform="translate(973.15,995.00) rotate(0)"><path d="M-8.2,0 L-8.2,-12.2 A8.2,8.2 0 0 1 8.2,-12.2 L8.2,0 M-4.4,-2.5 L-4.4,-10.6 A4.4,4.4 0 0 1 4.4,-10.6 L4.4,-2.5 A4.4,4.4 0 0 1 -4.4,-2.5" stroke="#353535" stroke-width="1.5" fill="#fff"/></g>
<g transform="translate(882.60,1001.20) rotate(-45)"><path d="M-8.2,0 L-8.2,-12.2 A8.2,8.2 0 0 1 8.2,-12.2 L8.2,0 M-4.4,-2.5 L-4.4,-10.6 A4.4,4.4 0 0 1 4.4,-10.6 L4.4,-2.5 A4.4,4.4 0 0 1 -4.4,-2.5" stroke="#353535" stroke-width="1.5" fill="#fff"/></g>
<g transform="translate(994.80,1001.20) rotate(45)"><path d="M-8.2,0 L-8.2,-12.2 A8.2,8.2 0 0 1 8.2,-12.2 L8.2,0 M-4.4,-2.5 L-4.4,-10.6 A4.4,4.4 0 0 1 4.4,-10.6 L4.4,-2.5 A4.4,4.4 0 0 1 -4.4,-2.5" stroke="#353535" stroke-width="1.5" fill="#fff"/></g>
<g transform="translate(883.90,1185.00) rotate(-135)"><path d="M-8.2,0 L-8.2,-12.2 A8.2,8.2 0 0 1 8.2,-12.2 L8.2,0 M-4.4,-2.5 L-4.4,-10.6 A4.4,4.4 0 0 1 4.4,-10.6 L4.4,-2.5 A4.4,4.4 0 0 1 -4.4,-2.5" stroke="#353535" stroke-width="1.5" fill="#fff"/></g>
<g transform="translate(994.80,1185.00) rotate(135)"><path d="M-8.2,0 L-8.2,-12.2 A8.2,8.2 0 0 1 8.2,-12.2 L8.2,0 M-4.4,-2.5 L-4.4,-10.6 A4.4,4.4 0 0 1 4.4,-10.6 L4.4,-2.5 A4.4,4.4 0 0 1 -4.4,-2.5" stroke="#353535" stroke-width="1.5" fill="#fff"/></g>
<g transform="translate(902.60,1190.60) rotate(180)"><path d="M-8.2,0 L-8.2,-12.2 A8.2,8.2 0 0 1 8.2,-12.2 L8.2,0 M-4.4,-2.5 L-4.4,-10.6 A4.4,4.4 0 0 1 4.4,-10.6 L4.4,-2.5 A4.4,4.4 0 0 1 -4.4,-2.5" stroke="#353535" stroke-width="1.5" fill="#fff"/></g>
<g transform="translate(970.55,1190.60) rotate(180)"><path d="M-8.2,0 L-8.2,-12.2 A8.2,8.2 0 0 1 8.2,-12.2 L8.2,0 M-4.4,-2.5 L-4.4,-10.6 A4.4,4.4 0 0 1 4.4,-10.6 L4.4,-2.5 A4.4,4.4 0 0 1 -4.4,-2.5" stroke="#353535" stroke-width="1.5" fill="#fff"/></g>
<path d="M888.5,995 L988.25,995 L1001.4,1007.4 L1001.4,1179.4 L988.25,1190.6 L891.1,1190.6 L876.7,1179.4 L876.7,1007.4 Z" stroke="#353535" stroke-width="1.6" fill="#fff" />
<path d="M889.6,997.4 L987.2,997.4 L999.0,1008.4 L999.0,1178.4 L987.2,1188.2 L892.1,1188.2 L879.1,1178.4 L879.1,1008.4 Z" stroke="#353535" stroke-width="1.2" fill="none" />
<circle cx="888.20" cy="1008.50" r="4.60" stroke="#353535" stroke-width="1.4" fill="none"/>
<circle cx="986.00" cy="1008.50" r="4.60" stroke="#353535" stroke-width="1.4" fill="none"/>
<rect x="919.30" y="997.40" width="41.40" height="3.80" stroke="#353535" stroke-width="1.3" fill="none" rx="0" />
<line x1="923.30" y1="1001.20" x2="923.30" y2="1030.00" stroke="#353535" stroke-width="1.4"/>
<line x1="956.75" y1="1001.20" x2="956.75" y2="1030.00" stroke="#353535" stroke-width="1.4"/>
<circle cx="939.00" cy="1039.60" r="19.00" stroke="#353535" stroke-width="1.6" fill="#fff"/>
<circle cx="939.00" cy="1039.60" r="11.30" stroke="#353535" stroke-width="1.4" fill="none"/>
<circle cx="939.00" cy="1039.60" r="9.60" stroke="#353535" stroke-width="1.2" fill="none"/>
<circle cx="939.00" cy="1039.60" r="1.80" stroke="#353535" stroke-width="1.2" fill="none"/>
<line x1="927.90" y1="1054.00" x2="927.90" y2="1109.90" stroke="#353535" stroke-width="1.4"/>
<line x1="951.50" y1="1054.00" x2="951.50" y2="1109.90" stroke="#353535" stroke-width="1.4"/>
<circle cx="888.50" cy="1091.50" r="9.20" stroke="#353535" stroke-width="1.5" fill="none"/>
<circle cx="888.50" cy="1091.50" r="4.60" stroke="#353535" stroke-width="1.4" fill="none"/>
<circle cx="987.60" cy="1091.50" r="9.20" stroke="#353535" stroke-width="1.5" fill="none"/>
<circle cx="987.60" cy="1091.50" r="4.60" stroke="#353535" stroke-width="1.4" fill="none"/>
<circle cx="886.50" cy="1174.20" r="4.80" stroke="#353535" stroke-width="1.4" fill="none"/>
<circle cx="989.60" cy="1174.20" r="4.80" stroke="#353535" stroke-width="1.4" fill="none"/>
<rect x="910.50" y="1109.90" width="60.90" height="63.00" stroke="#353535" stroke-width="1.5" fill="none" rx="0" />
<circle cx="940.30" cy="1141.40" r="24.90" stroke="#353535" stroke-width="1.5" fill="none"/>
<circle cx="940.30" cy="1141.40" r="23.00" stroke="#353535" stroke-width="1.2" fill="none"/>
<polygon points="919.00,1141.40 929.60,1122.80 951.00,1122.80 961.60,1141.40 951.00,1160.00 929.60,1160.00" fill="none" stroke="#353535" stroke-width="1.3" />
<rect x="932.20" y="1134.20" width="15.40" height="15.05" stroke="#353535" stroke-width="1.5" fill="none" rx="0" />
<ellipse cx="938.4" cy="1141.6" rx="1.8" ry="1.3" stroke="#353535" stroke-width="1.1" fill="none"/>
<line x1="881.30" y1="1126.90" x2="910.50" y2="1126.90" stroke="#353535" stroke-width="1.4"/>
<line x1="881.30" y1="1156.50" x2="910.50" y2="1156.50" stroke="#353535" stroke-width="1.4"/>
<rect x="879.30" y="1121.70" width="2.20" height="38.70" stroke="#353535" stroke-width="1.2" fill="none" rx="0" />
<line x1="971.40" y1="1126.90" x2="995.50" y2="1126.90" stroke="#353535" stroke-width="1.4"/>
<line x1="971.40" y1="1156.50" x2="995.50" y2="1156.50" stroke="#353535" stroke-width="1.4"/>
<rect x="995.50" y="1124.30" width="3.25" height="34.70" stroke="#353535" stroke-width="1.2" fill="none" rx="0" />
<line x1="1002.25" y1="1145.55" x2="1036.40" y2="1117.10" stroke="#555" stroke-width="1.1"/>
<text x="1042.60 1049.80 1057.00 1064.20 1071.40 1078.60 1085.80 1093.00 1100.20 1107.40 1114.60" y="1119.30" font-family="Liberation Serif" font-size="15.44" fill="#3a3a3a" stroke="#3a3a3a" stroke-width="0.3" text-anchor="middle">4–1/2–14NPT</text>
<rect x="1023.30" y="1338.10" width="63.20" height="44.20" stroke="#353535" stroke-width="1.8" fill="none" rx="0" />
<rect x="1025.60" y="1343.60" width="59.05" height="37.30" stroke="#353535" stroke-width="1.6" fill="none" rx="0" />
<line x1="1025.60" y1="1356.35" x2="1084.65" y2="1356.35" stroke="#353535" stroke-width="1.6"/>
<line x1="1025.60" y1="1372.90" x2="1084.65" y2="1372.90" stroke="#353535" stroke-width="1.8"/>
<line x1="1025.60" y1="1375.10" x2="1084.65" y2="1375.10" stroke="#353535" stroke-width="1.4"/>
<line x1="1023.30" y1="1310.60" x2="1086.50" y2="1310.60" stroke="#8a8a8a" stroke-width="1.0"/>
<line x1="1023.30" y1="1309.50" x2="1023.30" y2="1338.00" stroke="#8a8a8a" stroke-width="1.0"/>
<line x1="1086.50" y1="1309.50" x2="1086.50" y2="1338.00" stroke="#8a8a8a" stroke-width="1.0"/>
<text x="1044.06 1050.97" y="1309.70" font-family="Liberation Serif" font-size="15.88" fill="#3a3a3a" stroke="#3a3a3a" stroke-width="0.3" text-anchor="middle">50</text><text x="1054.77" y="1309.70" font-family="Liberation Serif" font-size="17.37" fill="#3a3a3a" stroke="#3a3a3a" stroke-width="0.25" textLength="13.13" lengthAdjust="spacingAndGlyphs">mm</text>
<text x="1041.58 1048.23 1054.88 1061.53 1068.18" y="1327.00" font-family="Liberation Serif" font-size="16.51" fill="#3a3a3a" stroke="#3a3a3a" stroke-width="0.3" text-anchor="middle">1.96″</text>
<line x1="998.00" y1="1338.10" x2="998.00" y2="1427.00" stroke="#8a8a8a" stroke-width="1.0"/>
<line x1="996.60" y1="1338.10" x2="1021.90" y2="1338.10" stroke="#8a8a8a" stroke-width="1.0"/>
<line x1="996.60" y1="1382.30" x2="1021.90" y2="1382.30" stroke="#8a8a8a" stroke-width="1.0"/>
<g transform="translate(998.00,1426.80) rotate(-90)"><text x="4.10 12.30" y="0.00" font-family="Liberation Serif" font-size="15.44" fill="#3a3a3a" stroke="#3a3a3a" stroke-width="0.3" text-anchor="middle">30</text><text x="16.81" y="0.00" font-family="Liberation Serif" font-size="16.89" fill="#3a3a3a" stroke="#3a3a3a" stroke-width="0.25" textLength="15.58" lengthAdjust="spacingAndGlyphs">mm</text></g>
<g transform="translate(1016.25,1427.30) rotate(-90)"><text x="3.61 10.83 18.05 25.27 32.49" y="0.00" font-family="Liberation Serif" font-size="13.87" fill="#3a3a3a" stroke="#3a3a3a" stroke-width="0.3" text-anchor="middle">1.18″</text></g>
<line x1="1010.10" y1="126.30" x2="1428.75" y2="126.30" stroke="#8a8a8a" stroke-width="1.2"/>
<line x1="1010.10" y1="125.00" x2="1010.10" y2="221.40" stroke="#8a8a8a" stroke-width="1.0"/>
<line x1="1428.75" y1="124.00" x2="1428.75" y2="139.30" stroke="#8a8a8a" stroke-width="1.0"/>
<line x1="1202.50" y1="125.60" x2="1237.00" y2="125.60" stroke="#444" stroke-width="1.3"/>
<text x="1200.00" y="141.50" font-family="Liberation Sans" font-size="15.14" fill="#111" stroke="#111" stroke-width="0.3" font-weight="normal" textLength="34.00" lengthAdjust="spacingAndGlyphs">14.9″</text>
<line x1="1429.00" y1="161.00" x2="1443.20" y2="148.50" stroke="#353535" stroke-width="1.5"/>
<line x1="1429.00" y1="189.70" x2="1443.20" y2="177.20" stroke="#353535" stroke-width="1.5"/>
<line x1="1429.00" y1="218.40" x2="1443.20" y2="205.90" stroke="#353535" stroke-width="1.5"/>
<line x1="1429.00" y1="247.10" x2="1443.20" y2="234.60" stroke="#353535" stroke-width="1.5"/>
<line x1="1429.00" y1="275.80" x2="1443.20" y2="263.30" stroke="#353535" stroke-width="1.5"/>
<line x1="1429.00" y1="304.50" x2="1443.20" y2="292.00" stroke="#353535" stroke-width="1.5"/>
<line x1="1429.00" y1="333.20" x2="1443.20" y2="320.70" stroke="#353535" stroke-width="1.5"/>
<line x1="1429.00" y1="361.90" x2="1443.20" y2="349.40" stroke="#353535" stroke-width="1.5"/>
<line x1="1429.00" y1="390.60" x2="1443.20" y2="378.10" stroke="#353535" stroke-width="1.5"/>
<line x1="1429.00" y1="419.30" x2="1443.20" y2="406.80" stroke="#353535" stroke-width="1.5"/>
<line x1="1429.00" y1="448.00" x2="1443.20" y2="435.50" stroke="#353535" stroke-width="1.5"/>
<line x1="1429.00" y1="476.70" x2="1443.20" y2="464.20" stroke="#353535" stroke-width="1.5"/>
<line x1="1429.00" y1="505.40" x2="1443.20" y2="492.90" stroke="#353535" stroke-width="1.5"/>
<line x1="1429.00" y1="534.10" x2="1443.20" y2="521.60" stroke="#353535" stroke-width="1.5"/>
<line x1="1429.00" y1="562.80" x2="1443.20" y2="550.30" stroke="#353535" stroke-width="1.5"/>
<line x1="1429.00" y1="591.50" x2="1443.20" y2="579.00" stroke="#353535" stroke-width="1.5"/>
<line x1="1429.00" y1="620.20" x2="1443.20" y2="607.70" stroke="#353535" stroke-width="1.5"/>
<line x1="1429.00" y1="648.90" x2="1443.20" y2="636.40" stroke="#353535" stroke-width="1.5"/>
<line x1="1429.00" y1="677.60" x2="1443.20" y2="665.10" stroke="#353535" stroke-width="1.5"/>
<line x1="1429.00" y1="706.30" x2="1443.20" y2="693.80" stroke="#353535" stroke-width="1.5"/>
<line x1="1429.00" y1="735.00" x2="1443.20" y2="722.50" stroke="#353535" stroke-width="1.5"/>
<line x1="1429.00" y1="763.70" x2="1443.20" y2="751.20" stroke="#353535" stroke-width="1.5"/>
<line x1="1429.00" y1="792.40" x2="1443.20" y2="779.90" stroke="#353535" stroke-width="1.5"/>
<line x1="1429.00" y1="821.10" x2="1443.20" y2="808.60" stroke="#353535" stroke-width="1.5"/>
<line x1="1429.00" y1="849.80" x2="1443.20" y2="837.30" stroke="#353535" stroke-width="1.5"/>
<line x1="1429.00" y1="878.50" x2="1443.20" y2="866.00" stroke="#353535" stroke-width="1.5"/>
<line x1="1429.00" y1="907.20" x2="1443.20" y2="894.70" stroke="#353535" stroke-width="1.5"/>
<line x1="1429.00" y1="935.90" x2="1443.20" y2="923.40" stroke="#353535" stroke-width="1.5"/>
<line x1="1429.00" y1="964.60" x2="1443.20" y2="952.10" stroke="#353535" stroke-width="1.5"/>
<line x1="1429.00" y1="993.30" x2="1443.20" y2="980.80" stroke="#353535" stroke-width="1.5"/>
<line x1="1429.00" y1="1022.00" x2="1443.20" y2="1009.50" stroke="#353535" stroke-width="1.5"/>
<line x1="1429.00" y1="1050.70" x2="1443.20" y2="1038.20" stroke="#353535" stroke-width="1.5"/>
<line x1="1429.00" y1="1079.40" x2="1443.20" y2="1066.90" stroke="#353535" stroke-width="1.5"/>
<line x1="1429.00" y1="1108.10" x2="1443.20" y2="1095.60" stroke="#353535" stroke-width="1.5"/>
<line x1="1429.00" y1="1136.80" x2="1443.20" y2="1124.30" stroke="#353535" stroke-width="1.5"/>
<line x1="1429.00" y1="1165.50" x2="1443.20" y2="1153.00" stroke="#353535" stroke-width="1.5"/>
<line x1="1429.00" y1="1194.20" x2="1443.20" y2="1181.70" stroke="#353535" stroke-width="1.5"/>
<line x1="1429.00" y1="1222.90" x2="1443.20" y2="1210.40" stroke="#353535" stroke-width="1.5"/>
<line x1="1429.00" y1="1251.60" x2="1443.20" y2="1239.10" stroke="#353535" stroke-width="1.5"/>
<line x1="1429.00" y1="1280.30" x2="1443.20" y2="1267.80" stroke="#353535" stroke-width="1.5"/>
<line x1="1429.00" y1="1309.00" x2="1443.20" y2="1296.50" stroke="#353535" stroke-width="1.5"/>
<line x1="1429.00" y1="1337.70" x2="1443.20" y2="1325.20" stroke="#353535" stroke-width="1.5"/>
<line x1="1429.00" y1="1366.40" x2="1443.20" y2="1353.90" stroke="#353535" stroke-width="1.5"/>
<line x1="1429.00" y1="1395.10" x2="1443.20" y2="1382.60" stroke="#353535" stroke-width="1.5"/>
<line x1="1429.00" y1="1423.80" x2="1443.20" y2="1411.30" stroke="#353535" stroke-width="1.5"/>
<line x1="1429.00" y1="1452.50" x2="1443.20" y2="1440.00" stroke="#353535" stroke-width="1.5"/>
<line x1="1429.00" y1="1481.20" x2="1443.20" y2="1468.70" stroke="#353535" stroke-width="1.5"/>
<line x1="1429.00" y1="1509.90" x2="1443.20" y2="1497.40" stroke="#353535" stroke-width="1.5"/>
<line x1="1429.00" y1="1538.60" x2="1443.20" y2="1526.10" stroke="#353535" stroke-width="1.5"/>
<line x1="1429.00" y1="1567.30" x2="1443.20" y2="1554.80" stroke="#353535" stroke-width="1.5"/>
<rect x="1010.25" y="221.45" width="407.75" height="40.80" stroke="#353535" stroke-width="1.7" fill="none" rx="0" />
<path d="M1026.75,262.25 L1026.75,282.5 L1053,282.5 L1053,262.25" stroke="#353535" stroke-width="1.4" fill="none" />
<rect x="1033.50" y="275.00" width="12.00" height="7.50" stroke="#353535" stroke-width="1.4" fill="none" rx="0" />
<rect x="1029.50" y="282.50" width="21.00" height="3.30" stroke="#353535" stroke-width="1.0" fill="none" rx="0" />
<rect x="1021.20" y="285.80" width="38.55" height="15.00" stroke="#353535" stroke-width="1.4" fill="none" rx="0" />
<rect x="1018.20" y="300.80" width="43.50" height="8.70" stroke="#353535" stroke-width="1.4" fill="none" rx="0" />
<path d="M850.5,318.5 L850.5,314.8 Q850.5,313.7 852,313.7 L864.75,313.7 L870,309.5 L1215.75,309.5 L1222.5,315.2 L1232,315.2 Q1233,315.2 1233,316.5 L1233,318.5 Z" stroke="#353535" stroke-width="1.4" fill="none" />
<rect x="866.10" y="318.50" width="4.20" height="4.60" stroke="#353535" stroke-width="1.2" fill="none" rx="0.6" />
<rect x="878.33" y="318.50" width="4.20" height="4.60" stroke="#353535" stroke-width="1.2" fill="none" rx="0.6" />
<rect x="890.55" y="318.50" width="4.20" height="4.60" stroke="#353535" stroke-width="1.2" fill="none" rx="0.6" />
<rect x="902.77" y="318.50" width="4.20" height="4.60" stroke="#353535" stroke-width="1.2" fill="none" rx="0.6" />
<rect x="915.00" y="318.50" width="4.20" height="4.60" stroke="#353535" stroke-width="1.2" fill="none" rx="0.6" />
<rect x="927.23" y="318.50" width="4.20" height="4.60" stroke="#353535" stroke-width="1.2" fill="none" rx="0.6" />
<rect x="939.45" y="318.50" width="4.20" height="4.60" stroke="#353535" stroke-width="1.2" fill="none" rx="0.6" />
<rect x="951.67" y="318.50" width="4.20" height="4.60" stroke="#353535" stroke-width="1.2" fill="none" rx="0.6" />
<rect x="963.90" y="318.50" width="4.20" height="4.60" stroke="#353535" stroke-width="1.2" fill="none" rx="0.6" />
<rect x="976.12" y="318.50" width="4.20" height="4.60" stroke="#353535" stroke-width="1.2" fill="none" rx="0.6" />
<rect x="988.35" y="318.50" width="4.20" height="4.60" stroke="#353535" stroke-width="1.2" fill="none" rx="0.6" />
<rect x="1000.57" y="318.50" width="4.20" height="4.60" stroke="#353535" stroke-width="1.2" fill="none" rx="0.6" />
<rect x="1012.80" y="318.50" width="4.20" height="4.60" stroke="#353535" stroke-width="1.2" fill="none" rx="0.6" />
<rect x="1025.03" y="318.50" width="4.20" height="4.60" stroke="#353535" stroke-width="1.2" fill="none" rx="0.6" />
<rect x="1037.25" y="318.50" width="4.20" height="4.60" stroke="#353535" stroke-width="1.2" fill="none" rx="0.6" />
<rect x="1049.48" y="318.50" width="4.20" height="4.60" stroke="#353535" stroke-width="1.2" fill="none" rx="0.6" />
<rect x="1061.70" y="318.50" width="4.20" height="4.60" stroke="#353535" stroke-width="1.2" fill="none" rx="0.6" />
<rect x="1073.93" y="318.50" width="4.20" height="4.60" stroke="#353535" stroke-width="1.2" fill="none" rx="0.6" />
<rect x="1086.15" y="318.50" width="4.20" height="4.60" stroke="#353535" stroke-width="1.2" fill="none" rx="0.6" />
<rect x="1098.38" y="318.50" width="4.20" height="4.60" stroke="#353535" stroke-width="1.2" fill="none" rx="0.6" />
<rect x="1110.60" y="318.50" width="4.20" height="4.60" stroke="#353535" stroke-width="1.2" fill="none" rx="0.6" />
<rect x="1122.83" y="318.50" width="4.20" height="4.60" stroke="#353535" stroke-width="1.2" fill="none" rx="0.6" />
<rect x="1135.05" y="318.50" width="4.20" height="4.60" stroke="#353535" stroke-width="1.2" fill="none" rx="0.6" />
<rect x="1147.28" y="318.50" width="4.20" height="4.60" stroke="#353535" stroke-width="1.2" fill="none" rx="0.6" />
<rect x="1159.50" y="318.50" width="4.20" height="4.60" stroke="#353535" stroke-width="1.2" fill="none" rx="0.6" />
<rect x="1171.73" y="318.50" width="4.20" height="4.60" stroke="#353535" stroke-width="1.2" fill="none" rx="0.6" />
<rect x="1183.95" y="318.50" width="4.20" height="4.60" stroke="#353535" stroke-width="1.2" fill="none" rx="0.6" />
<rect x="1196.18" y="318.50" width="4.20" height="4.60" stroke="#353535" stroke-width="1.2" fill="none" rx="0.6" />
<rect x="1208.40" y="318.50" width="4.20" height="4.60" stroke="#353535" stroke-width="1.2" fill="none" rx="0.6" />
<line x1="1125.75" y1="318.50" x2="1125.75" y2="1577.00" stroke="#8a8a8a" stroke-width="1.0"/>
<line x1="1124.40" y1="1577.00" x2="1183.00" y2="1577.00" stroke="#8a8a8a" stroke-width="1.0"/>
<rect x="1418.00" y="203.20" width="25.40" height="72.80" stroke="#353535" stroke-width="1.6" fill="#fff" rx="0" />
<line x1="1429.00" y1="218.40" x2="1443.20" y2="205.90" stroke="#353535" stroke-width="1.5"/>
<line x1="1429.00" y1="247.10" x2="1443.20" y2="234.60" stroke="#353535" stroke-width="1.5"/>
<line x1="1429.00" y1="275.80" x2="1443.20" y2="263.30" stroke="#353535" stroke-width="1.5"/>
<line x1="1428.90" y1="139.30" x2="1428.90" y2="1577.00" stroke="#444" stroke-width="1.6"/>
<line x1="1443.20" y1="139.30" x2="1443.20" y2="1577.00" stroke="#444" stroke-width="1.6"/>
<line x1="1428.90" y1="139.30" x2="1443.20" y2="139.30" stroke="#353535" stroke-width="1.6"/>
<path d="M1443.4,230 L1459,230 Q1461.6,230 1461.6,232.6 L1461.6,253.6 Q1461.6,256.25 1459,256.25 L1443.4,256.25" stroke="#353535" stroke-width="1.6" fill="none" />
<line x1="1443.40" y1="203.20" x2="1509.40" y2="203.20" stroke="#8a8a8a" stroke-width="1.0"/>
<line x1="1443.40" y1="276.00" x2="1509.40" y2="276.00" stroke="#8a8a8a" stroke-width="1.0"/>
<line x1="1508.40" y1="203.20" x2="1508.40" y2="276.00" stroke="#8a8a8a" stroke-width="1.0"/>
<g transform="translate(1507.50,275.00) rotate(-90)"><text x="3.64 10.93" y="0.00" font-family="Liberation Serif" font-size="14.85" fill="#3a3a3a" stroke="#3a3a3a" stroke-width="0.3" text-anchor="middle">60</text><text x="14.94" y="0.00" font-family="Liberation Serif" font-size="16.25" fill="#3a3a3a" stroke="#3a3a3a" stroke-width="0.25" textLength="13.85" lengthAdjust="spacingAndGlyphs">mm</text><text x="32.80 40.09 47.38" y="0.00" font-family="Liberation Serif" font-size="14.85" fill="#3a3a3a" stroke="#3a3a3a" stroke-width="0.3" text-anchor="middle">x60</text><text x="51.39" y="0.00" font-family="Liberation Serif" font-size="16.25" fill="#3a3a3a" stroke="#3a3a3a" stroke-width="0.25" textLength="13.85" lengthAdjust="spacingAndGlyphs">mm</text></g>
<g transform="translate(1526.25,256.25) rotate(-90)"><text x="3.63 10.89 18.16 25.42" y="0.00" font-family="Liberation Serif" font-size="15.22" fill="#3a3a3a" stroke="#3a3a3a" stroke-width="0.3" text-anchor="middle">2.4″</text></g>
<line x1="1465.30" y1="214.00" x2="1510.30" y2="148.40" stroke="#666" stroke-width="1.1"/>
<text x="1512.08 1519.25 1526.42 1533.58 1540.75 1547.92 1555.08 1562.25 1569.42" y="148.00" font-family="Liberation Serif" font-size="15.44" fill="#3a3a3a" stroke="#3a3a3a" stroke-width="0.3" text-anchor="middle">1/2–14NPT</text>
<rect x="1415.60" y="893.75" width="13.30" height="242.85" stroke="#353535" stroke-width="1.6" fill="#fff" rx="0" />
<line x1="1429.00" y1="907.20" x2="1443.20" y2="894.70" stroke="#353535" stroke-width="1.5"/>
<line x1="1429.00" y1="935.90" x2="1443.20" y2="923.40" stroke="#353535" stroke-width="1.5"/>
<line x1="1429.00" y1="964.60" x2="1443.20" y2="952.10" stroke="#353535" stroke-width="1.5"/>
<line x1="1429.00" y1="993.30" x2="1443.20" y2="980.80" stroke="#353535" stroke-width="1.5"/>
<line x1="1429.00" y1="1022.00" x2="1443.20" y2="1009.50" stroke="#353535" stroke-width="1.5"/>
<line x1="1429.00" y1="1050.70" x2="1443.20" y2="1038.20" stroke="#353535" stroke-width="1.5"/>
<line x1="1429.00" y1="1079.40" x2="1443.20" y2="1066.90" stroke="#353535" stroke-width="1.5"/>
<line x1="1429.00" y1="1108.10" x2="1443.20" y2="1095.60" stroke="#353535" stroke-width="1.5"/>
<line x1="1429.00" y1="1136.80" x2="1443.20" y2="1124.30" stroke="#353535" stroke-width="1.5"/>
<line x1="1428.90" y1="880.00" x2="1428.90" y2="1150.00" stroke="#444" stroke-width="1.6"/>
<rect x="1443.20" y="929.85" width="68.20" height="180.45" stroke="#353535" stroke-width="1.6" fill="none" rx="0" />
<rect x="1503.75" y="915.20" width="7.65" height="14.65" stroke="#353535" stroke-width="1.5" fill="none" rx="0" />
<rect x="1503.75" y="1110.30" width="7.65" height="13.20" stroke="#353535" stroke-width="1.5" fill="none" rx="0" />
<circle cx="1470.50" cy="971.40" r="23.30" stroke="#353535" stroke-width="1.6" fill="none"/>
<circle cx="1470.50" cy="971.40" r="21.60" stroke="#353535" stroke-width="1.2" fill="none"/>
<circle cx="1470.50" cy="1066.10" r="23.30" stroke="#353535" stroke-width="1.6" fill="none"/>
<circle cx="1470.50" cy="1066.10" r="21.60" stroke="#353535" stroke-width="1.2" fill="none"/>
<rect x="1349.10" y="946.70" width="39.15" height="38.50" stroke="#353535" stroke-width="1.6" fill="none" rx="0" />
<line x1="1388.25" y1="954.35" x2="1415.60" y2="954.35" stroke="#353535" stroke-width="1.5"/>
<line x1="1388.25" y1="979.10" x2="1415.60" y2="979.10" stroke="#353535" stroke-width="1.5"/>
<path d="M1343.2,1173.9 L1343.2,1042.2 L1371.1,1042.2 L1381.2,1067.8 L1381.2,1097.9 L1349.5,1097.9 L1349.5,1173.9 Z" stroke="#353535" stroke-width="1.6" fill="none" />
<rect x="1385.40" y="1042.20" width="30.20" height="55.70" stroke="#353535" stroke-width="1.6" fill="none" rx="0" />
<path d="M1375.3,1049 L1385.4,1046.4 M1381.2,1067.8 L1385.4,1067.8" stroke="#353535" stroke-width="1.2" fill="none" />
<line x1="1381.20" y1="1097.90" x2="1385.40" y2="1097.90" stroke="#353535" stroke-width="1.2"/>
<line x1="1428.90" y1="867.50" x2="1511.40" y2="867.50" stroke="#8a8a8a" stroke-width="1.0"/>
<line x1="1511.40" y1="866.40" x2="1511.40" y2="1189.00" stroke="#8a8a8a" stroke-width="1.0"/>
<text x="1532.58 1539.75" y="867.50" font-family="Liberation Serif" font-size="16.03" fill="#3a3a3a" stroke="#3a3a3a" stroke-width="0.3" text-anchor="middle">65</text><text x="1543.69" y="867.50" font-family="Liberation Serif" font-size="17.53" fill="#3a3a3a" stroke="#3a3a3a" stroke-width="0.25" textLength="13.62" lengthAdjust="spacingAndGlyphs">mm</text><text x="1561.25 1568.42 1575.58" y="867.50" font-family="Liberation Serif" font-size="16.03" fill="#3a3a3a" stroke="#3a3a3a" stroke-width="0.3" text-anchor="middle">–75</text><text x="1579.53" y="867.50" font-family="Liberation Serif" font-size="17.53" fill="#3a3a3a" stroke="#3a3a3a" stroke-width="0.25" textLength="13.62" lengthAdjust="spacingAndGlyphs">mm</text>
<text x="1524.83 1531.99 1539.15 1546.31 1553.47 1560.63 1567.78 1574.94 1582.10 1589.26 1596.42" y="885.00" font-family="Liberation Serif" font-size="14.88" fill="#3a3a3a" stroke="#3a3a3a" stroke-width="0.3" text-anchor="middle">2.55″–2.95″</text>
<line x1="1271.40" y1="1042.20" x2="1343.20" y2="1042.20" stroke="#8a8a8a" stroke-width="1.0"/>
<line x1="1271.40" y1="1173.90" x2="1343.20" y2="1173.90" stroke="#8a8a8a" stroke-width="1.0"/>
<line x1="1272.90" y1="1042.20" x2="1272.90" y2="1173.90" stroke="#8a8a8a" stroke-width="1.0"/>
<g transform="translate(1272.60,1127.40) rotate(-90)"><text x="3.45 10.35 17.25" y="0.00" font-family="Liberation Serif" font-size="15.59" fill="#3a3a3a" stroke="#3a3a3a" stroke-width="0.3" text-anchor="middle">110</text><text x="21.05" y="0.00" font-family="Liberation Serif" font-size="17.05" fill="#3a3a3a" stroke="#3a3a3a" stroke-width="0.25" textLength="13.11" lengthAdjust="spacingAndGlyphs">mm</text></g>
<g transform="translate(1296.30,1128.00) rotate(-90)"><text x="3.45 10.35 17.25 24.15 31.05" y="0.00" font-family="Liberation Serif" font-size="16.10" fill="#3a3a3a" stroke="#3a3a3a" stroke-width="0.3" text-anchor="middle">4.33″</text></g>
<line x1="1343.20" y1="1173.90" x2="1343.20" y2="1189.70" stroke="#8a8a8a" stroke-width="1.0"/>
<line x1="1343.20" y1="1188.80" x2="1511.40" y2="1188.80" stroke="#8a8a8a" stroke-width="1.0"/>
<text x="1373.95 1380.85 1387.75" y="1188.50" font-family="Liberation Serif" font-size="14.85" fill="#3a3a3a" stroke="#3a3a3a" stroke-width="0.3" text-anchor="middle">120</text><text x="1391.55" y="1188.50" font-family="Liberation Serif" font-size="16.25" fill="#3a3a3a" stroke="#3a3a3a" stroke-width="0.25" textLength="13.11" lengthAdjust="spacingAndGlyphs">mm</text>
<text x="1373.95 1380.85 1387.75 1394.65 1401.55" y="1208.10" font-family="Liberation Serif" font-size="13.66" fill="#3a3a3a" stroke="#3a3a3a" stroke-width="0.3" text-anchor="middle">4.72″</text>
<line x1="1472.00" y1="1066.00" x2="1566.10" y2="1066.00" stroke="#8a8a8a" stroke-width="1.0"/>
<line x1="1564.50" y1="1066.00" x2="1564.50" y2="1577.00" stroke="#8a8a8a" stroke-width="1.0"/>
<g transform="translate(1560.30,1371.20) rotate(-90)"><text x="3.63 10.89 18.15" y="0.00" font-family="Liberation Serif" font-size="16.91" fill="#3a3a3a" stroke="#3a3a3a" stroke-width="0.3" text-anchor="middle">915</text><text x="22.14" y="0.00" font-family="Liberation Serif" font-size="18.50" fill="#3a3a3a" stroke="#3a3a3a" stroke-width="0.25" textLength="13.79" lengthAdjust="spacingAndGlyphs">mm</text><text x="39.92 47.18 54.44 61.70 68.95" y="0.00" font-family="Liberation Serif" font-size="16.91" fill="#3a3a3a" stroke="#3a3a3a" stroke-width="0.3" text-anchor="middle">–1016</text><text x="72.95" y="0.00" font-family="Liberation Serif" font-size="18.50" fill="#3a3a3a" stroke="#3a3a3a" stroke-width="0.25" textLength="13.79" lengthAdjust="spacingAndGlyphs">mm</text></g>
<g transform="translate(1582.10,1358.40) rotate(-90)"><text x="3.48 10.44 17.39 24.35 31.31 38.26 45.22" y="0.00" font-family="Liberation Serif" font-size="15.02" fill="#3a3a3a" stroke="#3a3a3a" stroke-width="0.3" text-anchor="middle">36″–40″</text></g>
<path d="M1428.3,1341.75 L1367.8,1341.75 Q1365.5,1341.75 1365.5,1344 L1365.5,1358.4 L1263.5,1358.4 L1263.5,1385.3 L1428.3,1385.3" stroke="#353535" stroke-width="1.7" fill="none" />
<line x1="1263.50" y1="1423.25" x2="1428.30" y2="1423.25" stroke="#8a8a8a" stroke-width="1.0"/>
<line x1="1263.50" y1="1385.30" x2="1263.50" y2="1424.00" stroke="#8a8a8a" stroke-width="1.0"/>
<text x="1331.73 1338.39 1345.05" y="1422.50" font-family="Liberation Serif" font-size="16.91" fill="#3a3a3a" stroke="#3a3a3a" stroke-width="0.3" text-anchor="middle">130</text><text x="1348.71" y="1422.50" font-family="Liberation Serif" font-size="18.50" fill="#3a3a3a" stroke="#3a3a3a" stroke-width="0.25" textLength="12.65" lengthAdjust="spacingAndGlyphs">mm</text>
<text x="1328.68 1335.44 1342.20 1348.96 1355.72" y="1446.80" font-family="Liberation Serif" font-size="17.32" fill="#3a3a3a" stroke="#3a3a3a" stroke-width="0.3" text-anchor="middle">5.11″</text>
<line x1="1216.90" y1="1385.30" x2="1263.50" y2="1385.30" stroke="#8a8a8a" stroke-width="1.0"/>
<line x1="1217.50" y1="1385.30" x2="1217.50" y2="1577.00" stroke="#8a8a8a" stroke-width="1.0"/>
<circle cx="1217.50" cy="1577.00" r="1.20" stroke="#353535" stroke-width="0.5" fill="#353535"/>
<g transform="translate(1217.10,1525.00) rotate(-90)"><text x="4.08 12.23 20.39" y="0.00" font-family="Liberation Serif" font-size="14.12" fill="#3a3a3a" stroke="#3a3a3a" stroke-width="0.3" text-anchor="middle">400</text><text x="24.87" y="0.00" font-family="Liberation Serif" font-size="15.44" fill="#3a3a3a" stroke="#3a3a3a" stroke-width="0.25" textLength="15.49" lengthAdjust="spacingAndGlyphs">mm</text><text x="44.85 53.00 61.16 69.31" y="0.00" font-family="Liberation Serif" font-size="14.12" fill="#3a3a3a" stroke="#3a3a3a" stroke-width="0.3" text-anchor="middle">–600</text><text x="73.80" y="0.00" font-family="Liberation Serif" font-size="15.44" fill="#3a3a3a" stroke="#3a3a3a" stroke-width="0.25" textLength="15.49" lengthAdjust="spacingAndGlyphs">mm</text></g>
<g transform="translate(1236.40,1525.40) rotate(-90)"><text x="3.99 11.98 19.96 27.94 35.93 43.91 51.89 59.88 67.86 75.84 83.83 91.81" y="0.00" font-family="Liberation Serif" font-size="14.21" fill="#3a3a3a" stroke="#3a3a3a" stroke-width="0.3" text-anchor="middle">15.74″–23.6″</text></g>
<g transform="translate(1120.40,938.00) rotate(-90)"><text x="3.65 10.95 18.25 25.55" y="0.00" font-family="Liberation Serif" font-size="16.62" fill="#3a3a3a" stroke="#3a3a3a" stroke-width="0.3" text-anchor="middle">2000</text><text x="29.56" y="0.00" font-family="Liberation Serif" font-size="18.18" fill="#3a3a3a" stroke="#3a3a3a" stroke-width="0.25" textLength="13.87" lengthAdjust="spacingAndGlyphs">mm</text><text x="47.45 54.75 62.05 69.35 76.65" y="0.00" font-family="Liberation Serif" font-size="16.62" fill="#3a3a3a" stroke="#3a3a3a" stroke-width="0.3" text-anchor="middle">–2235</text><text x="80.66" y="0.00" font-family="Liberation Serif" font-size="18.18" fill="#3a3a3a" stroke="#3a3a3a" stroke-width="0.25" textLength="13.87" lengthAdjust="spacingAndGlyphs">mm</text></g>
<g transform="translate(1144.00,927.50) rotate(-90)"><text x="3.46 10.38 17.29 24.21 31.12 38.04 44.96 51.88 58.79" y="0.00" font-family="Liberation Serif" font-size="15.22" fill="#3a3a3a" stroke="#3a3a3a" stroke-width="0.3" text-anchor="middle">78.7″–88″</text></g>
<line x1="1183.40" y1="1577.25" x2="1593.00" y2="1577.25" stroke="#353535" stroke-width="2.0"/>
<line x1="1191.30" y1="1577.25" x2="1172.80" y2="1600.00" stroke="#353535" stroke-width="1.3"/>
<line x1="1207.22" y1="1577.25" x2="1188.72" y2="1600.00" stroke="#353535" stroke-width="1.3"/>
<line x1="1223.14" y1="1577.25" x2="1204.64" y2="1600.00" stroke="#353535" stroke-width="1.3"/>
<line x1="1239.06" y1="1577.25" x2="1220.56" y2="1600.00" stroke="#353535" stroke-width="1.3"/>
<line x1="1254.98" y1="1577.25" x2="1236.48" y2="1600.00" stroke="#353535" stroke-width="1.3"/>
<line x1="1270.90" y1="1577.25" x2="1252.40" y2="1600.00" stroke="#353535" stroke-width="1.3"/>
<line x1="1286.82" y1="1577.25" x2="1268.32" y2="1600.00" stroke="#353535" stroke-width="1.3"/>
<line x1="1302.74" y1="1577.25" x2="1284.24" y2="1600.00" stroke="#353535" stroke-width="1.3"/>
<line x1="1318.66" y1="1577.25" x2="1300.16" y2="1600.00" stroke="#353535" stroke-width="1.3"/>
<line x1="1334.58" y1="1577.25" x2="1316.08" y2="1600.00" stroke="#353535" stroke-width="1.3"/>
<line x1="1350.50" y1="1577.25" x2="1332.00" y2="1600.00" stroke="#353535" stroke-width="1.3"/>
<line x1="1366.42" y1="1577.25" x2="1347.92" y2="1600.00" stroke="#353535" stroke-width="1.3"/>
<line x1="1382.34" y1="1577.25" x2="1363.84" y2="1600.00" stroke="#353535" stroke-width="1.3"/>
<line x1="1398.26" y1="1577.25" x2="1379.76" y2="1600.00" stroke="#353535" stroke-width="1.3"/>
<line x1="1414.18" y1="1577.25" x2="1395.68" y2="1600.00" stroke="#353535" stroke-width="1.3"/>
<line x1="1430.10" y1="1577.25" x2="1411.60" y2="1600.00" stroke="#353535" stroke-width="1.3"/>
<line x1="1446.02" y1="1577.25" x2="1427.52" y2="1600.00" stroke="#353535" stroke-width="1.3"/>
<line x1="1461.94" y1="1577.25" x2="1443.44" y2="1600.00" stroke="#353535" stroke-width="1.3"/>
<line x1="1477.86" y1="1577.25" x2="1459.36" y2="1600.00" stroke="#353535" stroke-width="1.3"/>
<line x1="1493.78" y1="1577.25" x2="1475.28" y2="1600.00" stroke="#353535" stroke-width="1.3"/>
<line x1="1509.70" y1="1577.25" x2="1491.20" y2="1600.00" stroke="#353535" stroke-width="1.3"/>
<line x1="1525.62" y1="1577.25" x2="1507.12" y2="1600.00" stroke="#353535" stroke-width="1.3"/>
<line x1="1541.54" y1="1577.25" x2="1523.04" y2="1600.00" stroke="#353535" stroke-width="1.3"/>
<line x1="1557.46" y1="1577.25" x2="1538.96" y2="1600.00" stroke="#353535" stroke-width="1.3"/>
<line x1="1573.38" y1="1577.25" x2="1554.88" y2="1600.00" stroke="#353535" stroke-width="1.3"/>
<line x1="1589.30" y1="1577.25" x2="1570.80" y2="1600.00" stroke="#353535" stroke-width="1.3"/>
<rect x="122.20" y="1039.40" width="50.60" height="49.60" stroke="#9d9d9b" stroke-width="0.8" fill="#e6e6e4" rx="0" />
<polygon points="122.20,1039.40 128.75,1040.00 128.75,1088.50 122.20,1089.00" fill="#a3a3a1" stroke="none" stroke-width="0" />
<polygon points="130.60,1053.00 140.60,1051.60 140.60,1077.50 130.60,1075.00" fill="#6a6a68" stroke="none" stroke-width="0" />
<polygon points="140.60,1051.60 301.00,1028.50 301.00,1059.00 140.60,1077.50" fill="url(#armg2)" stroke="none" stroke-width="0" />
<polygon points="140.60,1051.60 301.00,1028.50 301.00,1030.50 140.60,1053.60" fill="#a6a6a4" stroke="none" stroke-width="0" />
<polygon points="160.00,1076.00 301.00,1059.00 301.00,1061.50 160.00,1078.00" fill="#b8b8b6" stroke="none" stroke-width="0" />
<polygon points="301.00,1028.50 325.50,1029.00 325.50,1058.25 301.00,1058.25" fill="#dcdcda" stroke="#8a8a88" stroke-width="0.9" />
<rect x="287.25" y="1059.50" width="21.50" height="24.50" stroke="#6e6e6c" stroke-width="0.9" fill="#b9b9b7" rx="0" />
<rect x="296.50" y="1060.00" width="9.50" height="23.00" stroke="none" stroke-width="0" fill="#d8d8d6" rx="0" />
<rect x="289.00" y="1060.00" width="7.50" height="23.00" stroke="none" stroke-width="0" fill="#8e8e8c" rx="0" />
<polygon points="102.50,1097.40 238.00,1083.80 300.00,1084.00 507.00,1093.00 467.70,1098.00 300.00,1104.00 137.00,1102.00" fill="url(#nozp)" stroke="none" stroke-width="0" />
<path d="M102.5,1097.6 L238,1084 L300,1084.2 L507,1093" stroke="#6f6f6d" stroke-width="1.2" fill="none" />
<line x1="138.0" y1="1096.9" x2="138.0" y2="1101.9" stroke="#7c7c7a" stroke-width="1.0"/>
<path d="M136.7,1097.9 L138.0,1095.6 L139.3,1097.9 Z" fill="#6e6e6c"/>
<line x1="146.6" y1="1096.9" x2="146.6" y2="1101.9" stroke="#7c7c7a" stroke-width="1.0"/>
<path d="M145.3,1097.9 L146.6,1095.6 L147.9,1097.9 Z" fill="#6e6e6c"/>
<line x1="155.2" y1="1096.9" x2="155.2" y2="1101.9" stroke="#7c7c7a" stroke-width="1.0"/>
<path d="M153.9,1097.9 L155.2,1095.6 L156.5,1097.9 Z" fill="#6e6e6c"/>
<line x1="163.8" y1="1096.9" x2="163.8" y2="1101.9" stroke="#7c7c7a" stroke-width="1.0"/>
<path d="M162.5,1097.9 L163.8,1095.6 L165.1,1097.9 Z" fill="#6e6e6c"/>
<line x1="172.4" y1="1096.9" x2="172.4" y2="1101.9" stroke="#7c7c7a" stroke-width="1.0"/>
<path d="M171.1,1097.9 L172.4,1095.6 L173.7,1097.9 Z" fill="#6e6e6c"/>
<line x1="181.0" y1="1096.9" x2="181.0" y2="1101.9" stroke="#7c7c7a" stroke-width="1.0"/>
<path d="M179.7,1097.9 L181.0,1095.6 L182.3,1097.9 Z" fill="#6e6e6c"/>
<line x1="189.6" y1="1096.9" x2="189.6" y2="1101.9" stroke="#7c7c7a" stroke-width="1.0"/>
<path d="M188.3,1097.9 L189.6,1095.6 L190.9,1097.9 Z" fill="#6e6e6c"/>
<line x1="198.2" y1="1096.9" x2="198.2" y2="1101.9" stroke="#7c7c7a" stroke-width="1.0"/>
<path d="M196.9,1097.9 L198.2,1095.6 L199.5,1097.9 Z" fill="#6e6e6c"/>
<line x1="206.8" y1="1096.9" x2="206.8" y2="1101.9" stroke="#7c7c7a" stroke-width="1.0"/>
<path d="M205.5,1097.9 L206.8,1095.6 L208.1,1097.9 Z" fill="#6e6e6c"/>
<line x1="215.4" y1="1096.9" x2="215.4" y2="1101.9" stroke="#7c7c7a" stroke-width="1.0"/>
<path d="M214.1,1097.9 L215.4,1095.6 L216.7,1097.9 Z" fill="#6e6e6c"/>
<line x1="224.0" y1="1096.9" x2="224.0" y2="1101.9" stroke="#7c7c7a" stroke-width="1.0"/>
<path d="M222.7,1097.9 L224.0,1095.6 L225.3,1097.9 Z" fill="#6e6e6c"/>
<line x1="232.6" y1="1096.9" x2="232.6" y2="1101.9" stroke="#7c7c7a" stroke-width="1.0"/>
<path d="M231.3,1097.9 L232.6,1095.6 L233.9,1097.9 Z" fill="#6e6e6c"/>
<line x1="241.2" y1="1096.9" x2="241.2" y2="1101.9" stroke="#7c7c7a" stroke-width="1.0"/>
<path d="M239.9,1097.9 L241.2,1095.6 L242.5,1097.9 Z" fill="#6e6e6c"/>
<line x1="249.8" y1="1096.9" x2="249.8" y2="1101.9" stroke="#7c7c7a" stroke-width="1.0"/>
<path d="M248.5,1097.9 L249.8,1095.6 L251.1,1097.9 Z" fill="#6e6e6c"/>
<line x1="258.4" y1="1096.9" x2="258.4" y2="1101.9" stroke="#7c7c7a" stroke-width="1.0"/>
<path d="M257.1,1097.9 L258.4,1095.6 L259.7,1097.9 Z" fill="#6e6e6c"/>
<line x1="267.0" y1="1096.9" x2="267.0" y2="1101.9" stroke="#7c7c7a" stroke-width="1.0"/>
<path d="M265.7,1097.9 L267.0,1095.6 L268.3,1097.9 Z" fill="#6e6e6c"/>
<line x1="275.6" y1="1096.9" x2="275.6" y2="1101.9" stroke="#7c7c7a" stroke-width="1.0"/>
<path d="M274.3,1097.9 L275.6,1095.6 L276.9,1097.9 Z" fill="#6e6e6c"/>
<line x1="284.2" y1="1096.9" x2="284.2" y2="1101.9" stroke="#7c7c7a" stroke-width="1.0"/>
<path d="M282.9,1097.9 L284.2,1095.6 L285.5,1097.9 Z" fill="#6e6e6c"/>
<line x1="292.8" y1="1096.9" x2="292.8" y2="1101.9" stroke="#7c7c7a" stroke-width="1.0"/>
<path d="M291.5,1097.9 L292.8,1095.6 L294.1,1097.9 Z" fill="#6e6e6c"/>
<line x1="301.4" y1="1096.9" x2="301.4" y2="1101.9" stroke="#7c7c7a" stroke-width="1.0"/>
<path d="M300.1,1097.9 L301.4,1095.6 L302.7,1097.9 Z" fill="#6e6e6c"/>
<line x1="310.0" y1="1096.7" x2="310.0" y2="1101.7" stroke="#7c7c7a" stroke-width="1.0"/>
<path d="M308.7,1097.7 L310.0,1095.4 L311.3,1097.7 Z" fill="#6e6e6c"/>
<line x1="318.6" y1="1096.5" x2="318.6" y2="1101.5" stroke="#7c7c7a" stroke-width="1.0"/>
<path d="M317.3,1097.5 L318.6,1095.2 L319.9,1097.5 Z" fill="#6e6e6c"/>
<line x1="327.2" y1="1096.2" x2="327.2" y2="1101.2" stroke="#7c7c7a" stroke-width="1.0"/>
<path d="M325.9,1097.2 L327.2,1094.9 L328.5,1097.2 Z" fill="#6e6e6c"/>
<line x1="335.8" y1="1096.0" x2="335.8" y2="1101.0" stroke="#7c7c7a" stroke-width="1.0"/>
<path d="M334.5,1097.0 L335.8,1094.7 L337.1,1097.0 Z" fill="#6e6e6c"/>
<line x1="344.4" y1="1095.8" x2="344.4" y2="1100.8" stroke="#7c7c7a" stroke-width="1.0"/>
<path d="M343.1,1096.8 L344.4,1094.5 L345.7,1096.8 Z" fill="#6e6e6c"/>
<line x1="353.0" y1="1095.6" x2="353.0" y2="1100.6" stroke="#7c7c7a" stroke-width="1.0"/>
<path d="M351.7,1096.6 L353.0,1094.3 L354.3,1096.6 Z" fill="#6e6e6c"/>
<line x1="361.6" y1="1095.4" x2="361.6" y2="1100.4" stroke="#7c7c7a" stroke-width="1.0"/>
<path d="M360.3,1096.4 L361.6,1094.1 L362.9,1096.4 Z" fill="#6e6e6c"/>
<line x1="370.2" y1="1095.2" x2="370.2" y2="1100.2" stroke="#7c7c7a" stroke-width="1.0"/>
<path d="M368.9,1096.2 L370.2,1093.9 L371.5,1096.2 Z" fill="#6e6e6c"/>
<line x1="378.8" y1="1095.0" x2="378.8" y2="1100.0" stroke="#7c7c7a" stroke-width="1.0"/>
<path d="M377.5,1096.0 L378.8,1093.7 L380.1,1096.0 Z" fill="#6e6e6c"/>
<line x1="387.4" y1="1094.8" x2="387.4" y2="1099.8" stroke="#7c7c7a" stroke-width="1.0"/>
<path d="M386.1,1095.8 L387.4,1093.5 L388.7,1095.8 Z" fill="#6e6e6c"/>
<line x1="396.0" y1="1094.6" x2="396.0" y2="1099.6" stroke="#7c7c7a" stroke-width="1.0"/>
<path d="M394.7,1095.6 L396.0,1093.3 L397.3,1095.6 Z" fill="#6e6e6c"/>
<line x1="404.6" y1="1094.4" x2="404.6" y2="1099.4" stroke="#7c7c7a" stroke-width="1.0"/>
<path d="M403.3,1095.4 L404.6,1093.1 L405.9,1095.4 Z" fill="#6e6e6c"/>
<line x1="413.2" y1="1094.2" x2="413.2" y2="1099.2" stroke="#7c7c7a" stroke-width="1.0"/>
<path d="M411.9,1095.2 L413.2,1092.9 L414.5,1095.2 Z" fill="#6e6e6c"/>
<line x1="421.8" y1="1094.0" x2="421.8" y2="1099.0" stroke="#7c7c7a" stroke-width="1.0"/>
<path d="M420.5,1095.0 L421.8,1092.7 L423.1,1095.0 Z" fill="#6e6e6c"/>
<line x1="430.4" y1="1093.8" x2="430.4" y2="1098.8" stroke="#7c7c7a" stroke-width="1.0"/>
<path d="M429.1,1094.8 L430.4,1092.5 L431.7,1094.8 Z" fill="#6e6e6c"/>
<line x1="439.0" y1="1093.6" x2="439.0" y2="1098.6" stroke="#7c7c7a" stroke-width="1.0"/>
<path d="M437.7,1094.6 L439.0,1092.3 L440.3,1094.6 Z" fill="#6e6e6c"/>
<line x1="447.6" y1="1093.4" x2="447.6" y2="1098.4" stroke="#7c7c7a" stroke-width="1.0"/>
<path d="M446.3,1094.4 L447.6,1092.1 L448.9,1094.4 Z" fill="#6e6e6c"/>
<line x1="456.2" y1="1093.2" x2="456.2" y2="1098.2" stroke="#7c7c7a" stroke-width="1.0"/>
<path d="M454.9,1094.2 L456.2,1091.9 L457.5,1094.2 Z" fill="#6e6e6c"/>
<line x1="464.8" y1="1092.9" x2="464.8" y2="1097.9" stroke="#7c7c7a" stroke-width="1.0"/>
<path d="M463.5,1093.9 L464.8,1091.6 L466.1,1093.9 Z" fill="#6e6e6c"/>
<polygon points="116.90,1304.00 133.75,1304.00 133.75,1415.60 116.90,1415.60" fill="#8f9496" stroke="none" stroke-width="0" />
<polygon points="133.75,1307.50 143.10,1303.75 153.75,1303.75 153.75,1415.60 143.10,1415.60 133.75,1412.00" fill="#7d8184" stroke="none" stroke-width="0" />
<polygon points="134.50,1307.50 136.00,1307.00 136.00,1412.00 134.50,1412.00" fill="#a3a7a9" stroke="none" stroke-width="0" />
<rect x="133.90" y="1375.00" width="3.70" height="20.00" stroke="none" stroke-width="0" fill="#e6e0e0" rx="0" />
<rect x="134.60" y="1380.00" width="2.20" height="8.00" stroke="none" stroke-width="0" fill="#c98a8a" rx="0" />
<g transform="translate(115.3,1302.7) rotate(-45)"><rect x="-2.75" y="-5.0" width="5.5" height="10" rx="2.75" fill="none" stroke="#7b7f82" stroke-width="1.9"/></g>
<g transform="translate(140.6,1301.5) rotate(0)"><rect x="-2.6" y="-4.0" width="5.2" height="8" rx="2.6" fill="none" stroke="#7b7f82" stroke-width="1.9"/></g>
<g transform="translate(116.3,1410) rotate(45)"><rect x="-2.75" y="-5.25" width="5.5" height="10.5" rx="2.75" fill="none" stroke="#7b7f82" stroke-width="1.9"/></g>
<g transform="translate(141.2,1416.8) rotate(0)"><rect x="-2.6" y="-3.5" width="5.2" height="7" rx="2.6" fill="none" stroke="#7b7f82" stroke-width="1.9"/></g>
<ellipse cx="124.4" cy="1381.3" rx="4.2" ry="9" fill="#a88544" stroke="#6c6452" stroke-width="1.2"/>
<ellipse cx="124.4" cy="1381.3" rx="1.8" ry="4" fill="#5a4a2a"/>
<polygon points="153.75,1290.60 254.40,1286.25 255.00,1435.00 153.75,1444.40" fill="url(#vplg)" stroke="#b8b6b2" stroke-width="0.8" />
<polygon points="185.00,1324.50 195.00,1323.75 195.00,1351.00 185.00,1350.00" fill="#a9a7a3" stroke="none" stroke-width="0" />
<polygon points="195.00,1323.75 206.00,1324.50 206.00,1351.90 195.00,1351.00" fill="#7e7c78" stroke="none" stroke-width="0" />
<polygon points="206.00,1324.50 228.00,1325.50 228.00,1351.90 206.00,1351.90" fill="#e9e7e3" stroke="#b5b3af" stroke-width="0.7" />
<text x="168" y="1366" font-family="Liberation Serif" font-size="11" fill="#b04a40">H</text>
<text x="236" y="1360" font-family="Liberation Serif" font-size="11" fill="#5a86b8">C</text>
<polygon points="176.00,1367.50 203.00,1367.50 203.00,1442.50 176.00,1443.50" fill="#9c9a96" stroke="none" stroke-width="0" />
<polygon points="186.00,1368.00 226.00,1365.50 237.00,1369.00 237.00,1371.00 205.00,1371.00 195.00,1410.00 188.00,1410.00" fill="#b9b7b3" stroke="#8d8b87" stroke-width="0.7" />
<polygon points="203.00,1370.60 237.00,1370.60 237.00,1463.00 203.00,1463.00" fill="#e3e1dd" stroke="#a5a39f" stroke-width="0.8" />
<polygon points="203.00,1370.60 206.00,1371.00 206.00,1463.00 203.00,1463.00" fill="#b7b5b1" stroke="none" stroke-width="0" />
<polygon points="199.63,1525.88 221.75,1535.25 221.75,1548.75 248.00,1557.75 248.00,1569.75 199.63,1548.00" fill="#a2a2a0" stroke="none" stroke-width="0" />
<polygon points="199.63,1525.88 232.25,1522.13 254.38,1531.50 221.75,1535.25" fill="#b3b3b1" stroke="none" stroke-width="0" />
<polygon points="221.75,1535.25 254.38,1531.50 253.63,1548.75 221.75,1548.75" fill="#f2f2f0" stroke="none" stroke-width="0" />
<polygon points="223.25,1537.13 252.88,1533.75 252.50,1547.25 223.25,1548.00" fill="#777775" stroke="none" stroke-width="0" />
<polygon points="223.25,1548.00 252.50,1545.00 281.75,1553.25 248.00,1557.75" fill="#6c6c6a" stroke="none" stroke-width="0" />
<polygon points="248.00,1557.75 281.75,1553.25 281.75,1564.50 248.00,1569.75" fill="#f2f2f0" stroke="none" stroke-width="0" />
<polygon points="249.50,1559.25 280.25,1554.75 280.25,1563.75 249.50,1567.88" fill="#666664" stroke="none" stroke-width="0" />
<polygon points="199.63,1525.88 201.13,1526.25 201.13,1548.00 199.63,1548.00" fill="#8f8f8d" stroke="none" stroke-width="0" />
<polygon points="470.80,1184.00 476.30,1184.00 476.30,1325.60 465.30,1325.60" fill="#8d8d8b" stroke="none" stroke-width="0" />
<rect x="476.30" y="1184.60" width="17.90" height="140.40" stroke="#c9c9c7" stroke-width="0.7" fill="#f3f3f1" rx="0" />
<rect x="475.60" y="1188.00" width="17.20" height="41.30" stroke="none" stroke-width="0" fill="#2e2e2e" rx="0" />
<rect x="477.0" y="1189.6" width="2.6" height="2.6" rx="0.6" fill="#e0e0e0"/>
<rect x="477.0" y="1194.0" width="2.6" height="2.6" rx="0.6" fill="#e0e0e0"/>
<rect x="477.0" y="1198.4" width="2.6" height="2.6" rx="0.6" fill="#e0e0e0"/>
<rect x="477.0" y="1202.8" width="2.6" height="2.6" rx="0.6" fill="#e0e0e0"/>
<rect x="477.0" y="1207.2" width="2.6" height="2.6" rx="0.6" fill="#e0e0e0"/>
<rect x="477.0" y="1211.6" width="2.6" height="2.6" rx="0.6" fill="#e0e0e0"/>
<rect x="477.0" y="1216.0" width="2.6" height="2.6" rx="0.6" fill="#e0e0e0"/>
<rect x="477.0" y="1220.4" width="2.6" height="2.6" rx="0.6" fill="#e0e0e0"/>
<rect x="477.0" y="1224.8" width="2.6" height="2.6" rx="0.6" fill="#e0e0e0"/>
<rect x="481.0" y="1189.6" width="2.6" height="2.6" rx="0.6" fill="#e0e0e0"/>
<rect x="481.0" y="1194.0" width="2.6" height="2.6" rx="0.6" fill="#e0e0e0"/>
<rect x="481.0" y="1198.4" width="2.6" height="2.6" rx="0.6" fill="#e0e0e0"/>
<rect x="481.0" y="1202.8" width="2.6" height="2.6" rx="0.6" fill="#e0e0e0"/>
<rect x="481.0" y="1207.2" width="2.6" height="2.6" rx="0.6" fill="#e0e0e0"/>
<rect x="481.0" y="1211.6" width="2.6" height="2.6" rx="0.6" fill="#e0e0e0"/>
<rect x="481.0" y="1216.0" width="2.6" height="2.6" rx="0.6" fill="#e0e0e0"/>
<rect x="481.0" y="1220.4" width="2.6" height="2.6" rx="0.6" fill="#e0e0e0"/>
<rect x="481.0" y="1224.8" width="2.6" height="2.6" rx="0.6" fill="#e0e0e0"/>
<rect x="485.0" y="1189.6" width="2.6" height="2.6" rx="0.6" fill="#e0e0e0"/>
<rect x="485.0" y="1194.0" width="2.6" height="2.6" rx="0.6" fill="#e0e0e0"/>
<rect x="485.0" y="1198.4" width="2.6" height="2.6" rx="0.6" fill="#e0e0e0"/>
<rect x="485.0" y="1202.8" width="2.6" height="2.6" rx="0.6" fill="#e0e0e0"/>
<rect x="485.0" y="1207.2" width="2.6" height="2.6" rx="0.6" fill="#e0e0e0"/>
<rect x="485.0" y="1211.6" width="2.6" height="2.6" rx="0.6" fill="#e0e0e0"/>
<rect x="485.0" y="1216.0" width="2.6" height="2.6" rx="0.6" fill="#e0e0e0"/>
<rect x="485.0" y="1220.4" width="2.6" height="2.6" rx="0.6" fill="#e0e0e0"/>
<rect x="485.0" y="1224.8" width="2.6" height="2.6" rx="0.6" fill="#e0e0e0"/>
<rect x="489.0" y="1189.6" width="2.6" height="2.6" rx="0.6" fill="#e0e0e0"/>
<rect x="489.0" y="1194.0" width="2.6" height="2.6" rx="0.6" fill="#e0e0e0"/>
<rect x="489.0" y="1198.4" width="2.6" height="2.6" rx="0.6" fill="#e0e0e0"/>
<rect x="489.0" y="1202.8" width="2.6" height="2.6" rx="0.6" fill="#e0e0e0"/>
<rect x="489.0" y="1207.2" width="2.6" height="2.6" rx="0.6" fill="#e0e0e0"/>
<rect x="489.0" y="1211.6" width="2.6" height="2.6" rx="0.6" fill="#e0e0e0"/>
<rect x="489.0" y="1216.0" width="2.6" height="2.6" rx="0.6" fill="#e0e0e0"/>
<rect x="489.0" y="1220.4" width="2.6" height="2.6" rx="0.6" fill="#e0e0e0"/>
<rect x="489.0" y="1224.8" width="2.6" height="2.6" rx="0.6" fill="#e0e0e0"/>
<rect x="471.50" y="1326.30" width="12.30" height="13.70" stroke="#8d8d8b" stroke-width="0.7" fill="#b8b8b6" rx="0" />
<rect x="405.40" y="1322.80" width="42.60" height="46.80" stroke="#a0a09e" stroke-width="0.7" fill="#d3d3d1" rx="0" />
<polygon points="405.40,1322.80 412.00,1324.00 412.00,1368.00 405.40,1369.60" fill="#a9a9a7" stroke="none" stroke-width="0" />
<polygon points="414.40,1335.20 455.00,1335.20 455.00,1362.70 414.40,1362.70" fill="#8a8a88" stroke="none" stroke-width="0" />
<polygon points="414.40,1335.20 494.20,1335.20 494.20,1337.50 414.40,1337.50" fill="#bdbdbb" stroke="none" stroke-width="0" />
<rect x="455.00" y="1337.00" width="39.20" height="25.70" stroke="#b0b0ae" stroke-width="0.7" fill="#ebebe9" rx="0" />
<path d="M447.5,1370.0 L446.0,1400.0 L441.0,1450.0 L436.0,1500.0 L432.0,1550.0 L428.5,1600.0" stroke="#8e8e8c" stroke-width="8" fill="none"/>
<path d="M447.5,1370.0 L446.0,1400.0 L441.0,1450.0 L436.0,1500.0 L432.0,1550.0 L428.5,1600.0" stroke="#d0d0ce" stroke-width="5" fill="none" stroke-dasharray="1.1 1.1"/>
<path d="M447.5,1370.0 L446.0,1400.0 L441.0,1450.0 L436.0,1500.0 L432.0,1550.0 L428.5,1600.0" stroke="#a4a4a2" stroke-width="1.2" fill="none"/>
<path d="M478.0,1362.5 L480.0,1400.0 L483.0,1450.0 L486.5,1500.0 L489.5,1550.0 L493.0,1600.0" stroke="#8e8e8c" stroke-width="8" fill="none"/>
<path d="M478.0,1362.5 L480.0,1400.0 L483.0,1450.0 L486.5,1500.0 L489.5,1550.0 L493.0,1600.0" stroke="#d0d0ce" stroke-width="5" fill="none" stroke-dasharray="1.1 1.1"/>
<path d="M478.0,1362.5 L480.0,1400.0 L483.0,1450.0 L486.5,1500.0 L489.5,1550.0 L493.0,1600.0" stroke="#a4a4a2" stroke-width="1.2" fill="none"/>
<rect x="442.50" y="1362.70" width="10.00" height="9.30" stroke="#8a8a88" stroke-width="0.6" fill="#b5b5b3" rx="0" />
</svg></body></html>
